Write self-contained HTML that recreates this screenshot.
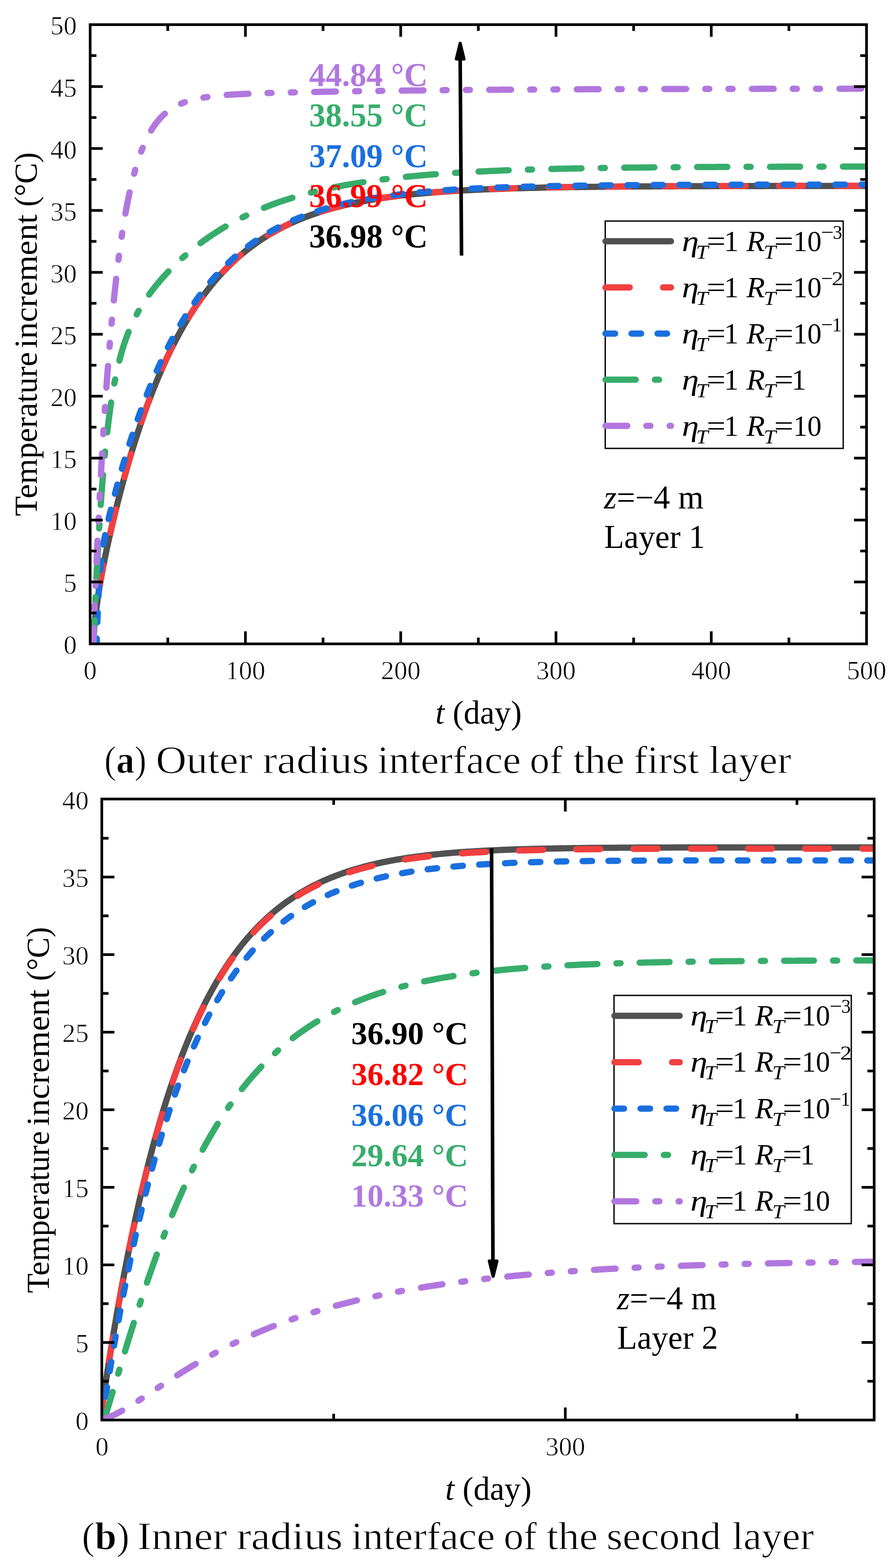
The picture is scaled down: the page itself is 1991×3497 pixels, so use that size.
<!DOCTYPE html><html><head><meta charset="utf-8"><title>Temperature increment</title><style>html,body{margin:0;padding:0;background:#fff}svg{display:block}text{font-family:"Liberation Serif","Times New Roman",serif}.tl{stroke:#fff;stroke-width:0.9px}.cap{stroke:#fff;stroke-width:1.2px}</style></head><body>
<svg xmlns="http://www.w3.org/2000/svg" width="1991" height="3497" viewBox="0 0 1991 3497">
<rect x="0" y="0" width="1991" height="3497" fill="#fff"/>
<defs><clipPath id="clipA"><rect x="204" y="58" width="1725" height="1375"/></clipPath></defs>
<g clip-path="url(#clipA)" fill="none" stroke-width="14" stroke-linecap="round" stroke-linejoin="round">
<path d="M206.86,1436.00 L207.39,1429.48 L207.92,1423.19 L208.46,1417.12 L208.99,1411.26 L209.52,1405.59 L210.05,1400.11 L210.59,1394.80 L211.12,1389.65 L211.65,1384.65 L212.18,1379.80 L212.72,1375.09 L213.25,1370.50 L213.78,1366.04 L214.31,1361.69 L214.85,1357.44 L215.38,1353.30 L215.91,1349.25 L216.44,1345.29 L216.98,1341.42 L217.51,1337.62 L218.04,1333.91 L218.58,1330.26 L219.11,1326.68 L219.64,1323.17 L220.17,1319.71 L220.71,1316.32 L221.24,1312.97 L221.77,1309.68 L222.30,1306.44 L222.84,1303.24 L223.37,1300.09 L223.90,1296.98 L224.43,1293.90 L224.97,1290.87 L225.50,1287.87 L226.03,1284.90 L226.56,1281.97 L227.10,1279.07 L227.63,1276.19 L228.16,1273.35 L228.69,1270.53 L229.23,1267.73 L229.76,1264.96 L230.29,1262.22 L230.83,1259.49 L231.36,1256.79 L231.89,1254.11 L232.42,1251.45 L232.96,1248.80 L233.49,1246.18 L234.02,1243.57 L234.55,1240.98 L235.09,1238.40 L235.62,1235.84 L236.15,1233.30 L236.68,1230.76 L237.22,1228.25 L237.75,1225.75 L238.28,1223.26 L238.81,1220.78 L239.35,1218.32 L239.88,1215.86 L240.41,1213.42 L240.95,1211.00 L241.48,1208.58 L242.01,1206.17 L242.54,1203.78 L243.08,1201.39 L243.61,1199.02 L244.14,1196.65 L244.67,1194.29 L245.21,1191.95 L245.74,1189.61 L246.27,1187.28 L246.80,1184.97 L247.34,1182.66 L247.87,1180.35 L248.40,1178.06 L248.93,1175.78 L249.47,1173.50 L250.00,1171.24 L250.53,1168.98 L251.07,1166.72 L251.60,1164.48 L252.13,1162.25 L252.66,1160.02 L253.20,1157.80 L253.73,1155.58 L254.26,1153.38 L254.79,1151.18 L255.33,1148.99 L255.86,1146.81 L256.39,1144.63 L256.92,1142.46 L257.46,1140.30 L257.99,1138.14 L258.52,1135.99 L259.05,1133.85 L259.59,1131.72 L260.12,1129.59 L260.65,1127.47 L261.19,1125.35 L261.72,1123.25 L262.25,1121.14 L262.78,1119.05 L263.32,1116.96 L263.85,1114.88 L264.38,1112.80 L264.91,1110.73 L265.45,1108.67 L265.98,1106.62 L266.51,1104.57 L267.04,1102.52 L267.58,1100.48 L268.11,1098.45 L268.64,1096.43 L269.17,1094.41 L269.71,1092.40 L270.24,1090.39 L271.98,1083.87 L273.72,1077.41 L275.47,1071.02 L277.21,1064.69 L278.95,1058.42 L280.69,1052.22 L282.43,1046.07 L284.18,1039.98 L285.92,1033.96 L287.66,1027.99 L289.40,1022.07 L291.14,1016.22 L292.88,1010.42 L294.63,1004.68 L296.37,999.00 L298.11,993.37 L299.85,987.79 L301.59,982.27 L303.34,976.80 L305.08,971.38 L306.82,966.02 L308.56,960.71 L310.30,955.45 L312.05,950.24 L313.79,945.08 L315.53,939.97 L317.27,934.91 L319.01,929.90 L320.75,924.94 L322.50,920.03 L324.24,915.16 L325.98,910.34 L327.72,905.57 L329.46,900.84 L331.21,896.16 L332.95,891.52 L334.69,886.93 L336.43,882.39 L338.17,877.88 L339.92,873.42 L341.66,869.01 L343.40,864.63 L345.14,860.30 L346.88,856.01 L348.62,851.76 L350.37,847.56 L352.11,843.39 L353.85,839.27 L355.59,835.18 L357.33,831.13 L359.08,827.13 L360.82,823.16 L362.56,819.23 L364.30,815.33 L366.04,811.48 L367.79,807.66 L369.53,803.88 L371.27,800.13 L373.01,796.43 L374.75,792.75 L376.50,789.12 L378.24,785.52 L379.98,781.95 L381.72,778.42 L383.46,774.92 L385.20,771.45 L386.95,768.02 L388.69,764.62 L390.43,761.26 L392.17,757.92 L393.91,754.62 L395.66,751.36 L397.40,748.12 L399.14,744.91 L400.88,741.74 L402.62,738.59 L404.37,735.48 L406.11,732.39 L407.85,729.34 L409.59,726.31 L411.33,723.32 L413.07,720.35 L414.82,717.41 L416.56,714.50 L418.30,711.62 L420.04,708.77 L421.78,705.94 L423.53,703.14 L425.27,700.37 L427.01,697.63 L428.75,694.91 L430.49,692.21 L432.24,689.55 L433.98,686.91 L435.72,684.29 L437.46,681.70 L439.20,679.14 L440.94,676.60 L442.69,674.08 L444.43,671.59 L446.17,669.12 L447.91,666.68 L449.65,664.26 L451.40,661.86 L453.14,659.48 L454.88,657.13 L456.62,654.80 L458.36,652.50 L460.11,650.21 L461.85,647.95 L463.59,645.71 L465.33,643.49 L467.07,641.30 L468.82,639.12 L470.56,636.97 L472.30,634.83 L474.04,632.72 L475.78,630.63 L477.52,628.55 L479.27,626.50 L481.01,624.47 L482.75,622.45 L484.49,620.46 L486.23,618.48 L487.98,616.53 L489.72,614.59 L491.46,612.67 L493.20,610.77 L494.94,608.89 L496.69,607.03 L498.43,605.18 L500.17,603.35 L501.91,601.54 L503.65,599.75 L505.39,597.98 L507.14,596.22 L508.88,594.48 L510.62,592.75 L512.36,591.04 L514.10,589.35 L515.85,587.68 L517.59,586.02 L519.33,584.37 L521.07,582.75 L522.81,581.13 L524.56,579.54 L526.30,577.96 L528.04,576.39 L529.78,574.84 L531.52,573.30 L533.26,571.78 L535.01,570.28 L536.75,568.78 L538.49,567.31 L540.23,565.84 L541.97,564.39 L543.72,562.96 L545.46,561.54 L547.20,560.13 L554.16,554.64 L561.12,549.36 L568.08,544.28 L575.04,539.39 L581.99,534.68 L588.95,530.16 L595.91,525.80 L602.87,521.61 L609.83,517.58 L616.79,513.70 L623.75,509.97 L630.71,506.37 L637.66,502.92 L644.62,499.59 L651.58,496.40 L658.54,493.32 L665.50,490.35 L672.46,487.50 L679.42,484.76 L686.38,482.12 L693.33,479.58 L700.29,477.14 L707.25,474.79 L714.21,472.53 L721.17,470.35 L728.13,468.26 L735.09,466.24 L742.05,464.30 L749.01,462.43 L755.96,460.64 L762.92,458.91 L769.88,457.25 L776.84,455.65 L783.80,454.11 L790.76,452.62 L797.72,451.20 L804.68,449.83 L811.63,448.51 L818.59,447.23 L825.55,446.01 L832.51,444.83 L839.47,443.70 L846.43,442.61 L853.39,441.56 L860.35,440.55 L867.30,439.58 L874.26,438.64 L881.22,437.74 L888.18,436.88 L895.14,436.05 L902.10,435.24 L909.06,434.47 L916.02,433.73 L922.97,433.01 L929.93,432.32 L936.89,431.66 L943.85,431.02 L950.81,430.41 L957.77,429.82 L964.73,429.25 L971.69,428.70 L978.65,428.18 L985.60,427.67 L992.56,427.18 L999.52,426.71 L1006.48,426.26 L1013.44,425.83 L1020.40,425.41 L1027.36,425.01 L1034.32,424.62 L1041.27,424.24 L1048.23,423.89 L1055.19,423.54 L1062.15,423.21 L1069.11,422.89 L1076.07,422.58 L1083.03,422.28 L1089.99,421.99 L1096.94,421.72 L1103.90,421.45 L1110.86,421.20 L1117.82,420.95 L1124.78,420.72 L1131.74,420.49 L1138.70,420.27 L1145.66,420.06 L1152.62,419.86 L1159.57,419.66 L1166.53,419.48 L1173.49,419.29 L1180.45,419.12 L1187.41,418.95 L1194.37,418.79 L1201.33,418.64 L1208.29,418.49 L1215.24,418.34 L1222.20,418.20 L1229.16,418.07 L1236.12,417.94 L1243.08,417.82 L1250.04,417.70 L1257.00,417.58 L1263.96,417.47 L1270.91,417.37 L1277.87,417.27 L1284.83,417.17 L1291.79,417.07 L1298.75,416.98 L1305.71,416.89 L1312.67,416.81 L1319.63,416.73 L1326.58,416.65 L1333.54,416.57 L1340.50,416.50 L1347.46,416.43 L1354.42,416.36 L1361.38,416.30 L1368.34,416.24 L1375.30,416.18 L1382.26,416.12 L1389.21,416.06 L1396.17,416.01 L1403.13,415.96 L1410.09,415.91 L1417.05,415.86 L1424.01,415.81 L1430.97,415.77 L1437.93,415.73 L1444.88,415.69 L1451.84,415.65 L1458.80,415.61 L1465.76,415.57 L1472.72,415.54 L1479.68,415.50 L1486.64,415.47 L1493.60,415.44 L1500.55,415.41 L1507.51,415.38 L1514.47,415.35 L1521.43,415.32 L1528.39,415.30 L1535.35,415.27 L1542.31,415.25 L1549.27,415.22 L1556.23,415.20 L1563.18,415.18 L1570.14,415.16 L1577.10,415.14 L1584.06,415.12 L1591.02,415.10 L1597.98,415.08 L1604.94,415.06 L1611.90,415.05 L1618.85,415.03 L1625.81,415.02 L1632.77,415.00 L1639.73,414.99 L1646.69,414.97 L1653.65,414.96 L1660.61,414.95 L1667.57,414.93 L1674.52,414.92 L1681.48,414.91 L1688.44,414.90 L1695.40,414.89 L1702.36,414.88 L1709.32,414.87 L1716.28,414.86 L1723.24,414.85 L1730.19,414.84 L1737.15,414.83 L1744.11,414.83 L1751.07,414.82 L1758.03,414.81 L1764.99,414.80 L1771.95,414.80 L1778.91,414.79 L1785.87,414.78 L1792.82,414.78 L1799.78,414.77 L1806.74,414.76 L1813.70,414.76 L1820.66,414.75 L1827.62,414.75 L1834.58,414.74 L1841.54,414.74 L1848.49,414.73 L1855.45,414.73 L1862.41,414.73 L1869.37,414.72 L1876.33,414.72 L1883.29,414.71 L1890.25,414.71 L1897.21,414.71 L1904.16,414.70 L1911.12,414.70 L1918.08,414.70 L1925.04,414.69 L1932.00,414.69" stroke="#515151"/>
<path d="M206.86,1436.00 L207.39,1429.47 L207.92,1423.18 L208.46,1417.11 L208.99,1411.25 L209.52,1405.58 L210.05,1400.10 L210.59,1394.79 L211.12,1389.64 L211.65,1384.64 L212.18,1379.79 L212.72,1375.07 L213.25,1370.49 L213.78,1366.02 L214.31,1361.67 L214.85,1357.42 L215.38,1353.28 L215.91,1349.23 L216.44,1345.27 L216.98,1341.39 L217.51,1337.60 L218.04,1333.88 L218.58,1330.23 L219.11,1326.65 L219.64,1323.14 L220.17,1319.68 L220.71,1316.28 L221.24,1312.94 L221.77,1309.65 L222.30,1306.40 L222.84,1303.20 L223.37,1300.05 L223.90,1296.94 L224.43,1293.86 L224.97,1290.83 L225.50,1287.83 L226.03,1284.86 L226.56,1281.93 L227.10,1279.02 L227.63,1276.15 L228.16,1273.30 L228.69,1270.48 L229.23,1267.69 L229.76,1264.92 L230.29,1262.17 L230.83,1259.45 L231.36,1256.74 L231.89,1254.06 L232.42,1251.40 L232.96,1248.75 L233.49,1246.12 L234.02,1243.51 L234.55,1240.92 L235.09,1238.35 L235.62,1235.79 L236.15,1233.24 L236.68,1230.71 L237.22,1228.19 L237.75,1225.69 L238.28,1223.20 L238.81,1220.72 L239.35,1218.26 L239.88,1215.81 L240.41,1213.36 L240.95,1210.94 L241.48,1208.52 L242.01,1206.11 L242.54,1203.71 L243.08,1201.33 L243.61,1198.95 L244.14,1196.59 L244.67,1194.23 L245.21,1191.88 L245.74,1189.54 L246.27,1187.22 L246.80,1184.90 L247.34,1182.59 L247.87,1180.29 L248.40,1177.99 L248.93,1175.71 L249.47,1173.43 L250.00,1171.16 L250.53,1168.90 L251.07,1166.65 L251.60,1164.41 L252.13,1162.17 L252.66,1159.94 L253.20,1157.72 L253.73,1155.51 L254.26,1153.30 L254.79,1151.10 L255.33,1148.91 L255.86,1146.73 L256.39,1144.55 L256.92,1142.38 L257.46,1140.22 L257.99,1138.06 L258.52,1135.91 L259.05,1133.77 L259.59,1131.63 L260.12,1129.51 L260.65,1127.38 L261.19,1125.27 L261.72,1123.16 L262.25,1121.06 L262.78,1118.96 L263.32,1116.87 L263.85,1114.79 L264.38,1112.72 L264.91,1110.65 L265.45,1108.58 L265.98,1106.53 L266.51,1104.48 L267.04,1102.43 L267.58,1100.39 L268.11,1098.36 L268.64,1096.34 L269.17,1094.32 L269.71,1092.30 L270.24,1090.30 L271.98,1083.78 L273.72,1077.32 L275.47,1070.92 L277.21,1064.59 L278.95,1058.32 L280.69,1052.11 L282.43,1045.96 L284.18,1039.88 L285.92,1033.85 L287.66,1027.88 L289.40,1021.96 L291.14,1016.11 L292.88,1010.31 L294.63,1004.57 L296.37,998.88 L298.11,993.25 L299.85,987.67 L301.59,982.15 L303.34,976.68 L305.08,971.26 L306.82,965.89 L308.56,960.58 L310.30,955.32 L312.05,950.11 L313.79,944.95 L315.53,939.84 L317.27,934.78 L319.01,929.77 L320.75,924.80 L322.50,919.89 L324.24,915.02 L325.98,910.20 L327.72,905.42 L329.46,900.70 L331.21,896.01 L332.95,891.38 L334.69,886.78 L336.43,882.24 L338.17,877.73 L339.92,873.27 L341.66,868.85 L343.40,864.48 L345.14,860.15 L346.88,855.86 L348.62,851.61 L350.37,847.40 L352.11,843.23 L353.85,839.10 L355.59,835.02 L357.33,830.97 L359.08,826.96 L360.82,822.99 L362.56,819.06 L364.30,815.17 L366.04,811.31 L367.79,807.49 L369.53,803.71 L371.27,799.96 L373.01,796.25 L374.75,792.58 L376.50,788.94 L378.24,785.34 L379.98,781.77 L381.72,778.24 L383.46,774.74 L385.20,771.27 L386.95,767.84 L388.69,764.44 L390.43,761.08 L392.17,757.74 L393.91,754.44 L395.66,751.17 L397.40,747.93 L399.14,744.72 L400.88,741.55 L402.62,738.40 L404.37,735.29 L406.11,732.20 L407.85,729.15 L409.59,726.12 L411.33,723.13 L413.07,720.16 L414.82,717.22 L416.56,714.31 L418.30,711.43 L420.04,708.57 L421.78,705.75 L423.53,702.95 L425.27,700.17 L427.01,697.43 L428.75,694.71 L430.49,692.01 L432.24,689.35 L433.98,686.70 L435.72,684.09 L437.46,681.50 L439.20,678.93 L440.94,676.39 L442.69,673.87 L444.43,671.38 L446.17,668.91 L447.91,666.47 L449.65,664.05 L451.40,661.65 L453.14,659.27 L454.88,656.92 L456.62,654.59 L458.36,652.29 L460.11,650.00 L461.85,647.74 L463.59,645.50 L465.33,643.28 L467.07,641.08 L468.82,638.91 L470.56,636.75 L472.30,634.62 L474.04,632.50 L475.78,630.41 L477.52,628.34 L479.27,626.28 L481.01,624.25 L482.75,622.23 L484.49,620.24 L486.23,618.26 L487.98,616.31 L489.72,614.37 L491.46,612.45 L493.20,610.55 L494.94,608.67 L496.69,606.80 L498.43,604.96 L500.17,603.13 L501.91,601.32 L503.65,599.52 L505.39,597.75 L507.14,595.99 L508.88,594.25 L510.62,592.52 L512.36,590.81 L514.10,589.12 L515.85,587.45 L517.59,585.79 L519.33,584.14 L521.07,582.51 L522.81,580.90 L524.56,579.31 L526.30,577.72 L528.04,576.16 L529.78,574.61 L531.52,573.07 L533.26,571.55 L535.01,570.04 L536.75,568.55 L538.49,567.07 L540.23,565.61 L541.97,564.16 L543.72,562.72 L545.46,561.30 L547.20,559.89 L554.16,554.40 L561.12,549.12 L568.08,544.03 L575.04,539.14 L581.99,534.44 L588.95,529.91 L595.91,525.55 L602.87,521.36 L609.83,517.33 L616.79,513.45 L623.75,509.72 L630.71,506.12 L637.66,502.67 L644.62,499.34 L651.58,496.14 L658.54,493.06 L665.50,490.10 L672.46,487.25 L679.42,484.51 L686.38,481.87 L693.33,479.33 L700.29,476.88 L707.25,474.53 L714.21,472.27 L721.17,470.09 L728.13,467.99 L735.09,465.98 L742.05,464.04 L749.01,462.17 L755.96,460.38 L762.92,458.65 L769.88,456.98 L776.84,455.38 L783.80,453.84 L790.76,452.36 L797.72,450.93 L804.68,449.56 L811.63,448.24 L818.59,446.97 L825.55,445.74 L832.51,444.57 L839.47,443.43 L846.43,442.34 L853.39,441.29 L860.35,440.28 L867.30,439.31 L874.26,438.38 L881.22,437.47 L888.18,436.61 L895.14,435.77 L902.10,434.97 L909.06,434.20 L916.02,433.46 L922.97,432.74 L929.93,432.05 L936.89,431.39 L943.85,430.75 L950.81,430.14 L957.77,429.55 L964.73,428.98 L971.69,428.43 L978.65,427.91 L985.60,427.40 L992.56,426.91 L999.52,426.44 L1006.48,425.99 L1013.44,425.55 L1020.40,425.14 L1027.36,424.73 L1034.32,424.34 L1041.27,423.97 L1048.23,423.61 L1055.19,423.27 L1062.15,422.93 L1069.11,422.61 L1076.07,422.30 L1083.03,422.01 L1089.99,421.72 L1096.94,421.45 L1103.90,421.18 L1110.86,420.93 L1117.82,420.68 L1124.78,420.44 L1131.74,420.22 L1138.70,420.00 L1145.66,419.79 L1152.62,419.58 L1159.57,419.39 L1166.53,419.20 L1173.49,419.02 L1180.45,418.85 L1187.41,418.68 L1194.37,418.52 L1201.33,418.36 L1208.29,418.21 L1215.24,418.07 L1222.20,417.93 L1229.16,417.80 L1236.12,417.67 L1243.08,417.54 L1250.04,417.42 L1257.00,417.31 L1263.96,417.20 L1270.91,417.09 L1277.87,416.99 L1284.83,416.89 L1291.79,416.80 L1298.75,416.71 L1305.71,416.62 L1312.67,416.53 L1319.63,416.45 L1326.58,416.37 L1333.54,416.30 L1340.50,416.23 L1347.46,416.16 L1354.42,416.09 L1361.38,416.02 L1368.34,415.96 L1375.30,415.90 L1382.26,415.84 L1389.21,415.79 L1396.17,415.73 L1403.13,415.68 L1410.09,415.63 L1417.05,415.58 L1424.01,415.54 L1430.97,415.49 L1437.93,415.45 L1444.88,415.41 L1451.84,415.37 L1458.80,415.33 L1465.76,415.29 L1472.72,415.26 L1479.68,415.23 L1486.64,415.19 L1493.60,415.16 L1500.55,415.13 L1507.51,415.10 L1514.47,415.07 L1521.43,415.05 L1528.39,415.02 L1535.35,414.99 L1542.31,414.97 L1549.27,414.95 L1556.23,414.92 L1563.18,414.90 L1570.14,414.88 L1577.10,414.86 L1584.06,414.84 L1591.02,414.82 L1597.98,414.81 L1604.94,414.79 L1611.90,414.77 L1618.85,414.76 L1625.81,414.74 L1632.77,414.73 L1639.73,414.71 L1646.69,414.70 L1653.65,414.68 L1660.61,414.67 L1667.57,414.66 L1674.52,414.65 L1681.48,414.64 L1688.44,414.62 L1695.40,414.61 L1702.36,414.60 L1709.32,414.59 L1716.28,414.58 L1723.24,414.58 L1730.19,414.57 L1737.15,414.56 L1744.11,414.55 L1751.07,414.54 L1758.03,414.53 L1764.99,414.53 L1771.95,414.52 L1778.91,414.51 L1785.87,414.51 L1792.82,414.50 L1799.78,414.49 L1806.74,414.49 L1813.70,414.48 L1820.66,414.48 L1827.62,414.47 L1834.58,414.47 L1841.54,414.46 L1848.49,414.46 L1855.45,414.45 L1862.41,414.45 L1869.37,414.45 L1876.33,414.44 L1883.29,414.44 L1890.25,414.43 L1897.21,414.43 L1904.16,414.43 L1911.12,414.42 L1918.08,414.42 L1925.04,414.42 L1932.00,414.41" stroke="#F14040" stroke-dasharray="54 74.4" stroke-dashoffset="6.08"/>
<path d="M215.51,1436.00 L215.97,1420.23 L216.43,1405.61 L216.89,1392.02 L217.35,1379.39 L217.81,1367.63 L218.27,1356.68 L218.73,1346.47 L219.19,1336.93 L219.65,1328.02 L220.11,1319.68 L220.57,1311.86 L221.03,1304.52 L221.49,1297.62 L221.95,1291.13 L222.41,1285.01 L222.87,1279.23 L223.33,1273.76 L223.79,1268.58 L224.25,1263.67 L224.71,1258.99 L225.17,1254.55 L225.63,1250.30 L226.09,1246.25 L226.55,1242.36 L227.01,1238.64 L227.47,1235.06 L227.93,1231.62 L228.39,1228.30 L228.85,1225.09 L229.31,1221.99 L229.77,1218.99 L230.23,1216.08 L230.69,1213.24 L231.15,1210.49 L231.61,1207.80 L232.07,1205.18 L232.53,1202.61 L232.99,1200.10 L233.45,1197.64 L233.91,1195.23 L234.37,1192.87 L234.83,1190.54 L235.29,1188.25 L235.75,1185.99 L236.21,1183.77 L236.67,1181.57 L237.13,1179.41 L237.59,1177.27 L238.05,1175.15 L238.51,1173.05 L238.97,1170.98 L239.43,1168.93 L239.89,1166.89 L240.35,1164.87 L240.81,1162.87 L241.26,1160.88 L241.72,1158.91 L242.18,1156.95 L242.64,1155.01 L243.10,1153.07 L243.56,1151.15 L244.02,1149.24 L244.48,1147.34 L244.94,1145.44 L245.40,1143.56 L245.86,1141.69 L246.32,1139.82 L246.78,1137.97 L247.24,1136.12 L247.70,1134.28 L248.16,1132.44 L248.62,1130.62 L249.08,1128.80 L249.54,1126.98 L250.00,1125.18 L250.46,1123.38 L250.92,1121.58 L251.38,1119.79 L251.84,1118.01 L252.30,1116.23 L252.76,1114.46 L253.22,1112.70 L253.68,1110.94 L254.14,1109.18 L254.60,1107.43 L255.06,1105.69 L255.52,1103.95 L255.98,1102.22 L256.44,1100.49 L256.90,1098.76 L257.36,1097.04 L257.82,1095.33 L258.28,1093.62 L258.74,1091.91 L259.20,1090.21 L259.66,1088.51 L260.12,1086.82 L260.58,1085.13 L261.04,1083.45 L261.50,1081.77 L261.96,1080.10 L262.42,1078.43 L262.88,1076.76 L263.34,1075.10 L263.80,1073.44 L264.26,1071.79 L264.72,1070.14 L265.18,1068.50 L265.64,1066.86 L266.10,1065.22 L266.56,1063.59 L267.02,1061.96 L267.48,1060.34 L267.94,1058.72 L268.40,1057.10 L268.86,1055.49 L269.32,1053.88 L269.78,1052.28 L270.24,1050.68 L271.98,1044.66 L273.72,1038.70 L275.47,1032.79 L277.21,1026.94 L278.95,1021.15 L280.69,1015.41 L282.43,1009.72 L284.18,1004.09 L285.92,998.51 L287.66,992.98 L289.40,987.51 L291.14,982.09 L292.88,976.71 L294.63,971.39 L296.37,966.12 L298.11,960.90 L299.85,955.73 L301.59,950.60 L303.34,945.53 L305.08,940.50 L306.82,935.52 L308.56,930.58 L310.30,925.70 L312.05,920.86 L313.79,916.06 L315.53,911.31 L317.27,906.60 L319.01,901.94 L320.75,897.32 L322.50,892.75 L324.24,888.22 L325.98,883.73 L327.72,879.29 L329.46,874.88 L331.21,870.52 L332.95,866.20 L334.69,861.92 L336.43,857.68 L338.17,853.47 L339.92,849.31 L341.66,845.19 L343.40,841.11 L345.14,837.06 L346.88,833.06 L348.62,829.09 L350.37,825.16 L352.11,821.26 L353.85,817.40 L355.59,813.58 L357.33,809.80 L359.08,806.05 L360.82,802.33 L362.56,798.65 L364.30,795.01 L366.04,791.40 L367.79,787.82 L369.53,784.28 L371.27,780.77 L373.01,777.29 L374.75,773.85 L376.50,770.44 L378.24,767.06 L379.98,763.71 L381.72,760.40 L383.46,757.11 L385.20,753.86 L386.95,750.63 L388.69,747.44 L390.43,744.28 L392.17,741.15 L393.91,738.04 L395.66,734.97 L397.40,731.92 L399.14,728.91 L400.88,725.92 L402.62,722.96 L404.37,720.03 L406.11,717.12 L407.85,714.24 L409.59,711.39 L411.33,708.57 L413.07,705.77 L414.82,703.00 L416.56,700.26 L418.30,697.54 L420.04,694.85 L421.78,692.18 L423.53,689.54 L425.27,686.92 L427.01,684.33 L428.75,681.76 L430.49,679.22 L432.24,676.70 L433.98,674.20 L435.72,671.73 L437.46,669.28 L439.20,666.85 L440.94,664.45 L442.69,662.07 L444.43,659.71 L446.17,657.37 L447.91,655.06 L449.65,652.76 L451.40,650.49 L453.14,648.24 L454.88,646.01 L456.62,643.81 L458.36,641.62 L460.11,639.45 L461.85,637.31 L463.59,635.18 L465.33,633.08 L467.07,630.99 L468.82,628.92 L470.56,626.88 L472.30,624.85 L474.04,622.84 L475.78,620.85 L477.52,618.88 L479.27,616.93 L481.01,615.00 L482.75,613.08 L484.49,611.18 L486.23,609.30 L487.98,607.44 L489.72,605.60 L491.46,603.77 L493.20,601.96 L494.94,600.17 L496.69,598.39 L498.43,596.63 L500.17,594.89 L501.91,593.16 L503.65,591.45 L505.39,589.76 L507.14,588.08 L508.88,586.42 L510.62,584.77 L512.36,583.14 L514.10,581.53 L515.85,579.93 L517.59,578.34 L519.33,576.77 L521.07,575.22 L522.81,573.67 L524.56,572.15 L526.30,570.64 L528.04,569.14 L529.78,567.66 L531.52,566.19 L533.26,564.73 L535.01,563.29 L536.75,561.86 L538.49,560.44 L540.23,559.04 L541.97,557.65 L543.72,556.28 L545.46,554.91 L547.20,553.57 L554.16,548.30 L561.12,543.23 L568.08,538.34 L575.04,533.64 L581.99,529.11 L588.95,524.75 L595.91,520.56 L602.87,516.51 L609.83,512.62 L616.79,508.87 L623.75,505.27 L630.71,501.79 L637.66,498.44 L644.62,495.22 L651.58,492.12 L658.54,489.13 L665.50,486.26 L672.46,483.49 L679.42,480.82 L686.38,478.25 L693.33,475.78 L700.29,473.40 L707.25,471.10 L714.21,468.89 L721.17,466.77 L728.13,464.72 L735.09,462.75 L742.05,460.85 L749.01,459.02 L755.96,457.26 L762.92,455.57 L769.88,453.94 L776.84,452.37 L783.80,450.85 L790.76,449.40 L797.72,447.99 L804.68,446.64 L811.63,445.34 L818.59,444.09 L825.55,442.88 L832.51,441.72 L839.47,440.60 L846.43,439.53 L853.39,438.49 L860.35,437.49 L867.30,436.53 L874.26,435.60 L881.22,434.71 L888.18,433.86 L895.14,433.03 L902.10,432.23 L909.06,431.47 L916.02,430.73 L922.97,430.02 L929.93,429.33 L936.89,428.68 L943.85,428.04 L950.81,427.43 L957.77,426.84 L964.73,426.28 L971.69,425.73 L978.65,425.21 L985.60,424.70 L992.56,424.21 L999.52,423.74 L1006.48,423.29 L1013.44,422.86 L1020.40,422.44 L1027.36,422.04 L1034.32,421.65 L1041.27,421.28 L1048.23,420.92 L1055.19,420.57 L1062.15,420.24 L1069.11,419.91 L1076.07,419.60 L1083.03,419.31 L1089.99,419.02 L1096.94,418.74 L1103.90,418.48 L1110.86,418.22 L1117.82,417.98 L1124.78,417.74 L1131.74,417.51 L1138.70,417.29 L1145.66,417.08 L1152.62,416.87 L1159.57,416.68 L1166.53,416.49 L1173.49,416.30 L1180.45,416.13 L1187.41,415.96 L1194.37,415.80 L1201.33,415.64 L1208.29,415.49 L1215.24,415.35 L1222.20,415.21 L1229.16,415.07 L1236.12,414.94 L1243.08,414.82 L1250.04,414.70 L1257.00,414.58 L1263.96,414.47 L1270.91,414.36 L1277.87,414.26 L1284.83,414.16 L1291.79,414.06 L1298.75,413.97 L1305.71,413.88 L1312.67,413.80 L1319.63,413.71 L1326.58,413.63 L1333.54,413.56 L1340.50,413.48 L1347.46,413.41 L1354.42,413.34 L1361.38,413.28 L1368.34,413.22 L1375.30,413.16 L1382.26,413.10 L1389.21,413.04 L1396.17,412.99 L1403.13,412.93 L1410.09,412.88 L1417.05,412.83 L1424.01,412.79 L1430.97,412.74 L1437.93,412.70 L1444.88,412.66 L1451.84,412.62 L1458.80,412.58 L1465.76,412.54 L1472.72,412.51 L1479.68,412.47 L1486.64,412.44 L1493.60,412.41 L1500.55,412.37 L1507.51,412.35 L1514.47,412.32 L1521.43,412.29 L1528.39,412.26 L1535.35,412.24 L1542.31,412.21 L1549.27,412.19 L1556.23,412.17 L1563.18,412.14 L1570.14,412.12 L1577.10,412.10 L1584.06,412.08 L1591.02,412.06 L1597.98,412.05 L1604.94,412.03 L1611.90,412.01 L1618.85,412.00 L1625.81,411.98 L1632.77,411.96 L1639.73,411.95 L1646.69,411.94 L1653.65,411.92 L1660.61,411.91 L1667.57,411.90 L1674.52,411.89 L1681.48,411.87 L1688.44,411.86 L1695.40,411.85 L1702.36,411.84 L1709.32,411.83 L1716.28,411.82 L1723.24,411.81 L1730.19,411.80 L1737.15,411.80 L1744.11,411.79 L1751.07,411.78 L1758.03,411.77 L1764.99,411.76 L1771.95,411.76 L1778.91,411.75 L1785.87,411.74 L1792.82,411.74 L1799.78,411.73 L1806.74,411.73 L1813.70,411.72 L1820.66,411.71 L1827.62,411.71 L1834.58,411.70 L1841.54,411.70 L1848.49,411.70 L1855.45,411.69 L1862.41,411.69 L1869.37,411.68 L1876.33,411.68 L1883.29,411.67 L1890.25,411.67 L1897.21,411.67 L1904.16,411.66 L1911.12,411.66 L1918.08,411.66 L1925.04,411.65 L1932.00,411.65" stroke="#1A6FDF" stroke-dasharray="21.4 36.6" stroke-dashoffset="9.71"/>
<path d="M208.50,1436.00 L209.02,1422.84 L209.54,1409.94 L210.06,1397.28 L210.58,1384.87 L211.09,1372.70 L211.61,1360.76 L212.13,1349.04 L212.65,1337.55 L213.17,1326.28 L213.69,1315.22 L214.21,1304.38 L214.73,1293.73 L215.24,1283.29 L215.76,1273.05 L216.28,1263.00 L216.80,1253.14 L217.32,1243.47 L217.84,1233.97 L218.36,1224.66 L218.88,1215.51 L219.40,1206.54 L219.91,1197.74 L220.43,1189.10 L220.95,1180.62 L221.47,1172.29 L221.99,1164.12 L222.51,1156.11 L223.03,1148.23 L223.55,1140.51 L224.06,1132.92 L224.58,1125.47 L225.10,1118.16 L225.62,1110.99 L226.14,1103.94 L226.66,1097.02 L227.18,1090.22 L227.70,1083.55 L228.22,1077.00 L228.73,1070.56 L229.25,1064.24 L229.77,1058.04 L230.29,1051.94 L230.81,1045.95 L231.33,1040.07 L231.85,1034.29 L232.37,1028.61 L232.88,1023.03 L233.40,1017.56 L233.92,1012.17 L234.44,1006.88 L234.96,1001.68 L235.48,996.57 L236.00,991.55 L236.52,986.62 L237.04,981.77 L237.55,977.00 L238.07,972.32 L238.59,967.71 L239.11,963.18 L239.63,958.73 L240.15,954.35 L240.67,950.05 L241.19,945.82 L241.70,941.65 L242.22,937.56 L242.74,933.53 L243.26,929.57 L243.78,925.68 L244.30,921.85 L244.82,918.08 L245.34,914.37 L245.86,910.72 L246.37,907.13 L246.89,903.60 L247.41,900.13 L247.93,896.70 L248.45,893.34 L248.97,890.02 L249.49,886.76 L250.01,883.55 L250.52,880.39 L251.04,877.27 L251.56,874.21 L252.08,871.19 L252.60,868.22 L253.12,865.29 L253.64,862.41 L254.16,859.57 L254.68,856.77 L255.19,854.01 L255.71,851.30 L256.23,848.62 L256.75,845.98 L257.27,843.38 L257.79,840.82 L258.31,838.30 L258.83,835.81 L259.34,833.36 L259.86,830.94 L260.38,828.56 L260.90,826.21 L261.42,823.89 L261.94,821.60 L262.46,819.35 L262.98,817.12 L263.50,814.93 L264.01,812.77 L264.53,810.63 L265.05,808.52 L265.57,806.45 L266.09,804.39 L266.61,802.37 L267.13,800.37 L267.65,798.40 L268.16,796.45 L268.68,794.53 L269.20,792.63 L269.72,790.76 L270.24,788.91 L271.98,782.86 L273.72,777.05 L275.47,771.47 L277.21,766.10 L278.95,760.93 L280.69,755.95 L282.43,751.15 L284.18,746.51 L285.92,742.02 L287.66,737.68 L289.40,733.48 L291.14,729.41 L292.88,725.46 L294.63,721.62 L296.37,717.89 L298.11,714.26 L299.85,710.73 L301.59,707.28 L303.34,703.92 L305.08,700.65 L306.82,697.45 L308.56,694.32 L310.30,691.26 L312.05,688.26 L313.79,685.33 L315.53,682.45 L317.27,679.63 L319.01,676.87 L320.75,674.15 L322.50,671.48 L324.24,668.86 L325.98,666.28 L327.72,663.74 L329.46,661.24 L331.21,658.78 L332.95,656.35 L334.69,653.96 L336.43,651.61 L338.17,649.29 L339.92,646.99 L341.66,644.73 L343.40,642.50 L345.14,640.29 L346.88,638.11 L348.62,635.96 L350.37,633.83 L352.11,631.73 L353.85,629.65 L355.59,627.59 L357.33,625.56 L359.08,623.55 L360.82,621.56 L362.56,619.58 L364.30,617.63 L366.04,615.70 L367.79,613.79 L369.53,611.89 L371.27,610.02 L373.01,608.16 L374.75,606.32 L376.50,604.49 L378.24,602.69 L379.98,600.90 L381.72,599.12 L383.46,597.36 L385.20,595.62 L386.95,593.89 L388.69,592.18 L390.43,590.48 L392.17,588.79 L393.91,587.12 L395.66,585.47 L397.40,583.83 L399.14,582.20 L400.88,580.58 L402.62,578.98 L404.37,577.39 L406.11,575.82 L407.85,574.25 L409.59,572.70 L411.33,571.17 L413.07,569.64 L414.82,568.13 L416.56,566.63 L418.30,565.14 L420.04,563.66 L421.78,562.20 L423.53,560.74 L425.27,559.30 L427.01,557.87 L428.75,556.45 L430.49,555.04 L432.24,553.64 L433.98,552.26 L435.72,550.88 L437.46,549.52 L439.20,548.16 L440.94,546.82 L442.69,545.48 L444.43,544.16 L446.17,542.85 L447.91,541.54 L449.65,540.25 L451.40,538.97 L453.14,537.69 L454.88,536.43 L456.62,535.17 L458.36,533.93 L460.11,532.70 L461.85,531.47 L463.59,530.25 L465.33,529.05 L467.07,527.85 L468.82,526.66 L470.56,525.48 L472.30,524.31 L474.04,523.15 L475.78,522.00 L477.52,520.86 L479.27,519.72 L481.01,518.60 L482.75,517.48 L484.49,516.37 L486.23,515.27 L487.98,514.18 L489.72,513.09 L491.46,512.02 L493.20,510.95 L494.94,509.89 L496.69,508.84 L498.43,507.79 L500.17,506.76 L501.91,505.73 L503.65,504.71 L505.39,503.70 L507.14,502.70 L508.88,501.70 L510.62,500.71 L512.36,499.73 L514.10,498.75 L515.85,497.79 L517.59,496.83 L519.33,495.88 L521.07,494.93 L522.81,493.99 L524.56,493.06 L526.30,492.14 L528.04,491.22 L529.78,490.31 L531.52,489.41 L533.26,488.51 L535.01,487.62 L536.75,486.74 L538.49,485.87 L540.23,485.00 L541.97,484.14 L543.72,483.28 L545.46,482.43 L547.20,481.59 L554.16,478.28 L561.12,475.08 L568.08,471.97 L575.04,468.95 L581.99,466.03 L588.95,463.19 L595.91,460.44 L602.87,457.77 L609.83,455.17 L616.79,452.66 L623.75,450.22 L630.71,447.86 L637.66,445.56 L644.62,443.34 L651.58,441.18 L658.54,439.09 L665.50,437.06 L672.46,435.08 L679.42,433.17 L686.38,431.32 L693.33,429.52 L700.29,427.78 L707.25,426.08 L714.21,424.44 L721.17,422.85 L728.13,421.30 L735.09,419.80 L742.05,418.35 L749.01,416.94 L755.96,415.57 L762.92,414.24 L769.88,412.96 L776.84,411.71 L783.80,410.50 L790.76,409.32 L797.72,408.18 L804.68,407.08 L811.63,406.00 L818.59,404.96 L825.55,403.95 L832.51,402.97 L839.47,402.02 L846.43,401.10 L853.39,400.21 L860.35,399.34 L867.30,398.50 L874.26,397.68 L881.22,396.89 L888.18,396.12 L895.14,395.38 L902.10,394.66 L909.06,393.96 L916.02,393.28 L922.97,392.62 L929.93,391.98 L936.89,391.36 L943.85,390.75 L950.81,390.17 L957.77,389.60 L964.73,389.05 L971.69,388.52 L978.65,388.00 L985.60,387.50 L992.56,387.01 L999.52,386.54 L1006.48,386.08 L1013.44,385.64 L1020.40,385.21 L1027.36,384.79 L1034.32,384.39 L1041.27,383.99 L1048.23,383.61 L1055.19,383.24 L1062.15,382.88 L1069.11,382.53 L1076.07,382.20 L1083.03,381.87 L1089.99,381.55 L1096.94,381.24 L1103.90,380.94 L1110.86,380.65 L1117.82,380.37 L1124.78,380.10 L1131.74,379.83 L1138.70,379.58 L1145.66,379.33 L1152.62,379.08 L1159.57,378.85 L1166.53,378.62 L1173.49,378.40 L1180.45,378.19 L1187.41,377.98 L1194.37,377.78 L1201.33,377.58 L1208.29,377.39 L1215.24,377.21 L1222.20,377.03 L1229.16,376.86 L1236.12,376.69 L1243.08,376.53 L1250.04,376.37 L1257.00,376.21 L1263.96,376.07 L1270.91,375.92 L1277.87,375.78 L1284.83,375.65 L1291.79,375.51 L1298.75,375.39 L1305.71,375.26 L1312.67,375.14 L1319.63,375.03 L1326.58,374.91 L1333.54,374.80 L1340.50,374.70 L1347.46,374.59 L1354.42,374.49 L1361.38,374.40 L1368.34,374.30 L1375.30,374.21 L1382.26,374.12 L1389.21,374.04 L1396.17,373.95 L1403.13,373.87 L1410.09,373.79 L1417.05,373.72 L1424.01,373.64 L1430.97,373.57 L1437.93,373.50 L1444.88,373.43 L1451.84,373.37 L1458.80,373.31 L1465.76,373.24 L1472.72,373.18 L1479.68,373.13 L1486.64,373.07 L1493.60,373.02 L1500.55,372.96 L1507.51,372.91 L1514.47,372.86 L1521.43,372.81 L1528.39,372.77 L1535.35,372.72 L1542.31,372.68 L1549.27,372.63 L1556.23,372.59 L1563.18,372.55 L1570.14,372.51 L1577.10,372.48 L1584.06,372.44 L1591.02,372.40 L1597.98,372.37 L1604.94,372.33 L1611.90,372.30 L1618.85,372.27 L1625.81,372.24 L1632.77,372.21 L1639.73,372.18 L1646.69,372.15 L1653.65,372.13 L1660.61,372.10 L1667.57,372.08 L1674.52,372.05 L1681.48,372.03 L1688.44,372.00 L1695.40,371.98 L1702.36,371.96 L1709.32,371.94 L1716.28,371.92 L1723.24,371.90 L1730.19,371.88 L1737.15,371.86 L1744.11,371.84 L1751.07,371.82 L1758.03,371.81 L1764.99,371.79 L1771.95,371.77 L1778.91,371.76 L1785.87,371.74 L1792.82,371.73 L1799.78,371.71 L1806.74,371.70 L1813.70,371.69 L1820.66,371.67 L1827.62,371.66 L1834.58,371.65 L1841.54,371.64 L1848.49,371.62 L1855.45,371.61 L1862.41,371.60 L1869.37,371.59 L1876.33,371.58 L1883.29,371.57 L1890.25,371.56 L1897.21,371.55 L1904.16,371.54 L1911.12,371.53 L1918.08,371.53 L1925.04,371.52 L1932.00,371.51" stroke="#37AD6B" stroke-dasharray="67.3 42.8 9.3 43.1" stroke-dashoffset="14.68"/>
<path d="M207.75,1436.00 L208.28,1422.31 L208.80,1408.77 L209.33,1395.38 L209.85,1382.15 L210.38,1369.06 L210.90,1356.12 L211.43,1343.32 L211.95,1330.67 L212.48,1318.16 L213.00,1305.80 L213.53,1293.57 L214.05,1281.48 L214.58,1269.52 L215.10,1257.70 L215.63,1246.01 L216.15,1234.45 L216.68,1223.03 L217.20,1211.73 L217.73,1200.55 L218.25,1189.51 L218.78,1178.59 L219.30,1167.79 L219.83,1157.11 L220.35,1146.55 L220.88,1136.11 L221.40,1125.79 L221.93,1115.58 L222.45,1105.49 L222.98,1095.51 L223.50,1085.65 L224.03,1075.89 L224.55,1066.24 L225.08,1056.71 L225.60,1047.28 L226.13,1037.95 L226.65,1028.73 L227.18,1019.62 L227.71,1010.60 L228.23,1001.69 L228.76,992.88 L229.28,984.16 L229.81,975.55 L230.33,967.03 L230.86,958.60 L231.38,950.28 L231.91,942.04 L232.43,933.90 L232.96,925.85 L233.48,917.89 L234.01,910.01 L234.53,902.23 L235.06,894.53 L235.58,886.92 L236.11,879.40 L236.63,871.96 L237.16,864.60 L237.68,857.33 L238.21,850.14 L238.73,843.03 L239.26,836.00 L239.78,829.04 L240.31,822.17 L240.83,815.37 L241.36,808.65 L241.88,802.01 L242.41,795.43 L242.93,788.94 L243.46,782.51 L243.98,776.16 L244.51,769.88 L245.03,763.67 L245.56,757.53 L246.08,751.45 L246.61,745.45 L247.13,739.51 L247.66,733.64 L248.18,727.84 L248.71,722.10 L249.24,716.42 L249.76,710.81 L250.29,705.26 L250.81,699.78 L251.34,694.35 L251.86,688.99 L252.39,683.68 L252.91,678.44 L253.44,673.25 L253.96,668.13 L254.49,663.06 L255.01,658.04 L255.54,653.09 L256.06,648.18 L256.59,643.34 L257.11,638.55 L257.64,633.81 L258.16,629.12 L258.69,624.49 L259.21,619.91 L259.74,615.38 L260.26,610.90 L260.79,606.47 L261.31,602.09 L261.84,597.76 L262.36,593.48 L262.89,589.24 L263.41,585.06 L263.94,580.92 L264.46,576.82 L264.99,572.78 L265.51,568.77 L266.04,564.82 L266.56,560.90 L267.09,557.03 L267.61,553.21 L268.14,549.43 L268.66,545.68 L269.19,541.99 L269.71,538.33 L270.24,534.71 L271.98,523.00 L273.72,511.72 L275.47,500.85 L277.21,490.38 L278.95,480.29 L280.69,470.57 L282.43,461.21 L284.18,452.19 L285.92,443.50 L287.66,435.12 L289.40,427.06 L291.14,419.28 L292.88,411.79 L294.63,404.58 L296.37,397.62 L298.11,390.92 L299.85,384.47 L301.59,378.25 L303.34,372.25 L305.08,366.47 L306.82,360.91 L308.56,355.54 L310.30,350.38 L312.05,345.40 L313.79,340.59 L315.53,335.97 L317.27,331.51 L319.01,327.21 L320.75,323.07 L322.50,319.08 L324.24,315.23 L325.98,311.53 L327.72,307.95 L329.46,304.51 L331.21,301.19 L332.95,297.99 L334.69,294.90 L336.43,291.93 L338.17,289.06 L339.92,286.30 L341.66,283.63 L343.40,281.06 L345.14,278.58 L346.88,276.20 L348.62,273.89 L350.37,271.67 L352.11,269.53 L353.85,267.47 L355.59,265.47 L357.33,263.55 L359.08,261.70 L360.82,259.91 L362.56,258.19 L364.30,256.53 L366.04,254.92 L367.79,253.38 L369.53,251.88 L371.27,250.44 L373.01,249.06 L374.75,247.71 L376.50,246.42 L378.24,245.17 L379.98,243.97 L381.72,242.81 L383.46,241.68 L385.20,240.60 L386.95,239.55 L388.69,238.54 L390.43,237.57 L392.17,236.63 L393.91,235.72 L395.66,234.84 L397.40,233.99 L399.14,233.17 L400.88,232.38 L402.62,231.62 L404.37,230.88 L406.11,230.17 L407.85,229.48 L409.59,228.81 L411.33,228.17 L413.07,227.55 L414.82,226.95 L416.56,226.36 L418.30,225.80 L420.04,225.26 L421.78,224.73 L423.53,224.22 L425.27,223.73 L427.01,223.25 L428.75,222.79 L430.49,222.35 L432.24,221.92 L433.98,221.50 L435.72,221.09 L437.46,220.70 L439.20,220.32 L440.94,219.95 L442.69,219.60 L444.43,219.25 L446.17,218.92 L447.91,218.59 L449.65,218.28 L451.40,217.98 L453.14,217.68 L454.88,217.39 L456.62,217.11 L458.36,216.85 L460.11,216.58 L461.85,216.33 L463.59,216.08 L465.33,215.84 L467.07,215.61 L468.82,215.38 L470.56,215.16 L472.30,214.95 L474.04,214.74 L475.78,214.54 L477.52,214.34 L479.27,214.15 L481.01,213.97 L482.75,213.79 L484.49,213.61 L486.23,213.44 L487.98,213.27 L489.72,213.11 L491.46,212.95 L493.20,212.79 L494.94,212.64 L496.69,212.50 L498.43,212.35 L500.17,212.21 L501.91,212.08 L503.65,211.94 L505.39,211.81 L507.14,211.69 L508.88,211.56 L510.62,211.44 L512.36,211.32 L514.10,211.20 L515.85,211.09 L517.59,210.98 L519.33,210.87 L521.07,210.76 L522.81,210.66 L524.56,210.56 L526.30,210.46 L528.04,210.36 L529.78,210.26 L531.52,210.17 L533.26,210.08 L535.01,209.99 L536.75,209.90 L538.49,209.81 L540.23,209.73 L541.97,209.64 L543.72,209.56 L545.46,209.48 L547.20,209.40 L554.16,209.09 L561.12,208.80 L568.08,208.53 L575.04,208.28 L581.99,208.04 L588.95,207.80 L595.91,207.58 L602.87,207.37 L609.83,207.17 L616.79,206.98 L623.75,206.79 L630.71,206.61 L637.66,206.43 L644.62,206.26 L651.58,206.10 L658.54,205.93 L665.50,205.78 L672.46,205.63 L679.42,205.48 L686.38,205.33 L693.33,205.19 L700.29,205.05 L707.25,204.91 L714.21,204.78 L721.17,204.65 L728.13,204.52 L735.09,204.40 L742.05,204.28 L749.01,204.16 L755.96,204.04 L762.92,203.92 L769.88,203.81 L776.84,203.70 L783.80,203.59 L790.76,203.48 L797.72,203.38 L804.68,203.27 L811.63,203.17 L818.59,203.07 L825.55,202.97 L832.51,202.88 L839.47,202.78 L846.43,202.69 L853.39,202.60 L860.35,202.51 L867.30,202.42 L874.26,202.34 L881.22,202.25 L888.18,202.17 L895.14,202.09 L902.10,202.01 L909.06,201.93 L916.02,201.85 L922.97,201.77 L929.93,201.70 L936.89,201.63 L943.85,201.55 L950.81,201.48 L957.77,201.41 L964.73,201.34 L971.69,201.28 L978.65,201.21 L985.60,201.15 L992.56,201.08 L999.52,201.02 L1006.48,200.96 L1013.44,200.90 L1020.40,200.84 L1027.36,200.78 L1034.32,200.72 L1041.27,200.67 L1048.23,200.61 L1055.19,200.56 L1062.15,200.50 L1069.11,200.45 L1076.07,200.40 L1083.03,200.35 L1089.99,200.30 L1096.94,200.25 L1103.90,200.20 L1110.86,200.16 L1117.82,200.11 L1124.78,200.06 L1131.74,200.02 L1138.70,199.97 L1145.66,199.93 L1152.62,199.89 L1159.57,199.85 L1166.53,199.81 L1173.49,199.77 L1180.45,199.73 L1187.41,199.69 L1194.37,199.65 L1201.33,199.61 L1208.29,199.58 L1215.24,199.54 L1222.20,199.50 L1229.16,199.47 L1236.12,199.44 L1243.08,199.40 L1250.04,199.37 L1257.00,199.34 L1263.96,199.30 L1270.91,199.27 L1277.87,199.24 L1284.83,199.21 L1291.79,199.18 L1298.75,199.15 L1305.71,199.12 L1312.67,199.10 L1319.63,199.07 L1326.58,199.04 L1333.54,199.01 L1340.50,198.99 L1347.46,198.96 L1354.42,198.94 L1361.38,198.91 L1368.34,198.89 L1375.30,198.86 L1382.26,198.84 L1389.21,198.82 L1396.17,198.79 L1403.13,198.77 L1410.09,198.75 L1417.05,198.73 L1424.01,198.71 L1430.97,198.69 L1437.93,198.66 L1444.88,198.64 L1451.84,198.63 L1458.80,198.61 L1465.76,198.59 L1472.72,198.57 L1479.68,198.55 L1486.64,198.53 L1493.60,198.51 L1500.55,198.50 L1507.51,198.48 L1514.47,198.46 L1521.43,198.45 L1528.39,198.43 L1535.35,198.41 L1542.31,198.40 L1549.27,198.38 L1556.23,198.37 L1563.18,198.35 L1570.14,198.34 L1577.10,198.32 L1584.06,198.31 L1591.02,198.29 L1597.98,198.28 L1604.94,198.27 L1611.90,198.25 L1618.85,198.24 L1625.81,198.23 L1632.77,198.22 L1639.73,198.20 L1646.69,198.19 L1653.65,198.18 L1660.61,198.17 L1667.57,198.16 L1674.52,198.15 L1681.48,198.14 L1688.44,198.12 L1695.40,198.11 L1702.36,198.10 L1709.32,198.09 L1716.28,198.08 L1723.24,198.07 L1730.19,198.06 L1737.15,198.05 L1744.11,198.04 L1751.07,198.04 L1758.03,198.03 L1764.99,198.02 L1771.95,198.01 L1778.91,198.00 L1785.87,197.99 L1792.82,197.98 L1799.78,197.98 L1806.74,197.97 L1813.70,197.96 L1820.66,197.95 L1827.62,197.94 L1834.58,197.94 L1841.54,197.93 L1848.49,197.92 L1855.45,197.91 L1862.41,197.91 L1869.37,197.90 L1876.33,197.89 L1883.29,197.89 L1890.25,197.88 L1897.21,197.87 L1904.16,197.87 L1911.12,197.86 L1918.08,197.86 L1925.04,197.85 L1932.00,197.84" stroke="#B177DE" stroke-dasharray="48.6 42.6 9 42.8 9 43.2" stroke-dashoffset="13.33"/>
</g>
<text x="689.2" y="192" font-size="73" font-weight="bold" fill="#B177DE">44.84 °C</text>
<text x="689.2" y="282" font-size="73" font-weight="bold" fill="#37AD6B">38.55 °C</text>
<text x="689.2" y="372.5" font-size="73" font-weight="bold" fill="#1A6FDF">37.09 °C</text>
<text x="689.2" y="462" font-size="73" font-weight="bold" fill="#FF0000">36.99 °C</text>
<text x="689.2" y="552" font-size="73" font-weight="bold" fill="#000000">36.98 °C</text>
<line x1="1026" y1="135" x2="1029" y2="570" stroke="#000" stroke-width="8"/>
<path d="M1026,96.5 L1017.5,131.5 L1034.5,131.5 Z" fill="#000" stroke="#000" stroke-width="7" stroke-linejoin="round"/>
<g stroke="#000" stroke-width="6" fill="none">
<rect x="201" y="55" width="1731" height="1381" stroke-linejoin="miter"/>
<line x1="201" y1="1366.95" x2="215" y2="1366.95"/>
<line x1="1932" y1="1366.95" x2="1918" y2="1366.95"/>
<line x1="201" y1="1297.90" x2="229" y2="1297.90"/>
<line x1="1932" y1="1297.90" x2="1904" y2="1297.90"/>
<line x1="201" y1="1228.85" x2="215" y2="1228.85"/>
<line x1="1932" y1="1228.85" x2="1918" y2="1228.85"/>
<line x1="201" y1="1159.80" x2="229" y2="1159.80"/>
<line x1="1932" y1="1159.80" x2="1904" y2="1159.80"/>
<line x1="201" y1="1090.75" x2="215" y2="1090.75"/>
<line x1="1932" y1="1090.75" x2="1918" y2="1090.75"/>
<line x1="201" y1="1021.70" x2="229" y2="1021.70"/>
<line x1="1932" y1="1021.70" x2="1904" y2="1021.70"/>
<line x1="201" y1="952.65" x2="215" y2="952.65"/>
<line x1="1932" y1="952.65" x2="1918" y2="952.65"/>
<line x1="201" y1="883.60" x2="229" y2="883.60"/>
<line x1="1932" y1="883.60" x2="1904" y2="883.60"/>
<line x1="201" y1="814.55" x2="215" y2="814.55"/>
<line x1="1932" y1="814.55" x2="1918" y2="814.55"/>
<line x1="201" y1="745.50" x2="229" y2="745.50"/>
<line x1="1932" y1="745.50" x2="1904" y2="745.50"/>
<line x1="201" y1="676.45" x2="215" y2="676.45"/>
<line x1="1932" y1="676.45" x2="1918" y2="676.45"/>
<line x1="201" y1="607.40" x2="229" y2="607.40"/>
<line x1="1932" y1="607.40" x2="1904" y2="607.40"/>
<line x1="201" y1="538.35" x2="215" y2="538.35"/>
<line x1="1932" y1="538.35" x2="1918" y2="538.35"/>
<line x1="201" y1="469.30" x2="229" y2="469.30"/>
<line x1="1932" y1="469.30" x2="1904" y2="469.30"/>
<line x1="201" y1="400.25" x2="215" y2="400.25"/>
<line x1="1932" y1="400.25" x2="1918" y2="400.25"/>
<line x1="201" y1="331.20" x2="229" y2="331.20"/>
<line x1="1932" y1="331.20" x2="1904" y2="331.20"/>
<line x1="201" y1="262.15" x2="215" y2="262.15"/>
<line x1="1932" y1="262.15" x2="1918" y2="262.15"/>
<line x1="201" y1="193.10" x2="229" y2="193.10"/>
<line x1="1932" y1="193.10" x2="1904" y2="193.10"/>
<line x1="201" y1="124.05" x2="215" y2="124.05"/>
<line x1="1932" y1="124.05" x2="1918" y2="124.05"/>
<line x1="374.10" y1="1436" x2="374.10" y2="1422"/>
<line x1="374.10" y1="55" x2="374.10" y2="69"/>
<line x1="547.20" y1="1436" x2="547.20" y2="1408"/>
<line x1="547.20" y1="55" x2="547.20" y2="82"/>
<line x1="720.30" y1="1436" x2="720.30" y2="1422"/>
<line x1="720.30" y1="55" x2="720.30" y2="69"/>
<line x1="893.40" y1="1436" x2="893.40" y2="1408"/>
<line x1="893.40" y1="55" x2="893.40" y2="82"/>
<line x1="1066.50" y1="1436" x2="1066.50" y2="1422"/>
<line x1="1066.50" y1="55" x2="1066.50" y2="69"/>
<line x1="1239.60" y1="1436" x2="1239.60" y2="1408"/>
<line x1="1239.60" y1="55" x2="1239.60" y2="82"/>
<line x1="1412.70" y1="1436" x2="1412.70" y2="1422"/>
<line x1="1412.70" y1="55" x2="1412.70" y2="69"/>
<line x1="1585.80" y1="1436" x2="1585.80" y2="1408"/>
<line x1="1585.80" y1="55" x2="1585.80" y2="82"/>
<line x1="1758.90" y1="1436" x2="1758.90" y2="1422"/>
<line x1="1758.90" y1="55" x2="1758.90" y2="69"/>
</g>
<text x="171.2" y="1458.40" font-size="59" text-anchor="end" class="tl">0</text>
<text x="171.2" y="1320.30" font-size="59" text-anchor="end" class="tl">5</text>
<text x="171.2" y="1182.20" font-size="59" text-anchor="end" class="tl">10</text>
<text x="171.2" y="1044.10" font-size="59" text-anchor="end" class="tl">15</text>
<text x="171.2" y="906.00" font-size="59" text-anchor="end" class="tl">20</text>
<text x="171.2" y="767.90" font-size="59" text-anchor="end" class="tl">25</text>
<text x="171.2" y="629.80" font-size="59" text-anchor="end" class="tl">30</text>
<text x="171.2" y="491.70" font-size="59" text-anchor="end" class="tl">35</text>
<text x="171.2" y="353.60" font-size="59" text-anchor="end" class="tl">40</text>
<text x="171.2" y="215.50" font-size="59" text-anchor="end" class="tl">45</text>
<text x="171.2" y="77.40" font-size="59" text-anchor="end" class="tl">50</text>
<text x="201.00" y="1515" font-size="59" text-anchor="middle" class="tl">0</text>
<text x="547.20" y="1515" font-size="59" text-anchor="middle" class="tl">100</text>
<text x="893.40" y="1515" font-size="59" text-anchor="middle" class="tl">200</text>
<text x="1239.60" y="1515" font-size="59" text-anchor="middle" class="tl">300</text>
<text x="1585.80" y="1515" font-size="59" text-anchor="middle" class="tl">400</text>
<text x="1932.00" y="1515" font-size="59" text-anchor="middle" class="tl">500</text>
<text transform="translate(82,1151.01) rotate(-90)" font-size="72" textLength="365.96" lengthAdjust="spacingAndGlyphs">Temperature</text>
<text transform="translate(82,776.57) rotate(-90)" font-size="72" textLength="298.32" lengthAdjust="spacingAndGlyphs">increment</text>
<text transform="translate(82,460.98) rotate(-90)" font-size="72" textLength="121.36" lengthAdjust="spacingAndGlyphs">(°C)</text>
<text x="970.8" y="1614" font-size="73"><tspan font-style="italic">t</tspan> (day)</text>
<rect x="1349.4" y="493" width="530.5999999999999" height="507" fill="none" stroke="#000" stroke-width="3"/>
<path d="M1350,538.00 L1496,538.00" stroke="#515151" stroke-width="14" stroke-linecap="round" fill="none"/>
<text x="1520.25" y="560.10" font-size="65" font-style="italic" textLength="37.89" lengthAdjust="spacingAndGlyphs">η</text>
<text x="1551.78" y="577.10" font-size="45" font-style="italic" textLength="27.15" lengthAdjust="spacingAndGlyphs">T</text>
<text x="1575.46" y="560.10" font-size="65" textLength="42.21" lengthAdjust="spacingAndGlyphs">=</text>
<text x="1614.19" y="560.10" font-size="65" textLength="32.5" lengthAdjust="spacingAndGlyphs">1</text>
<text x="1664.34" y="560.10" font-size="65" font-style="italic" textLength="41.2" lengthAdjust="spacingAndGlyphs">R</text>
<text x="1702.67" y="577.10" font-size="45" font-style="italic" textLength="27.25" lengthAdjust="spacingAndGlyphs">T</text>
<text x="1725.98" y="560.10" font-size="65" textLength="43.06" lengthAdjust="spacingAndGlyphs">=</text>
<text x="1768.42" y="560.10" font-size="65" textLength="63.39" lengthAdjust="spacingAndGlyphs">10</text>
<text x="1830.36" y="532.60" font-size="45" textLength="28.62" lengthAdjust="spacingAndGlyphs">−</text>
<text x="1856.68" y="532.60" font-size="45" textLength="21.07" lengthAdjust="spacingAndGlyphs">3</text>
<path d="M1350,640.95 L1496,640.95" stroke="#F14040" stroke-width="14" stroke-linecap="round" fill="none" stroke-dasharray="54 74.4"/>
<text x="1520.25" y="663.05" font-size="65" font-style="italic" textLength="37.89" lengthAdjust="spacingAndGlyphs">η</text>
<text x="1551.78" y="680.05" font-size="45" font-style="italic" textLength="27.15" lengthAdjust="spacingAndGlyphs">T</text>
<text x="1575.46" y="663.05" font-size="65" textLength="42.21" lengthAdjust="spacingAndGlyphs">=</text>
<text x="1614.19" y="663.05" font-size="65" textLength="32.5" lengthAdjust="spacingAndGlyphs">1</text>
<text x="1664.34" y="663.05" font-size="65" font-style="italic" textLength="41.2" lengthAdjust="spacingAndGlyphs">R</text>
<text x="1702.67" y="680.05" font-size="45" font-style="italic" textLength="27.25" lengthAdjust="spacingAndGlyphs">T</text>
<text x="1725.98" y="663.05" font-size="65" textLength="43.06" lengthAdjust="spacingAndGlyphs">=</text>
<text x="1768.42" y="663.05" font-size="65" textLength="63.39" lengthAdjust="spacingAndGlyphs">10</text>
<text x="1830.68" y="635.55" font-size="45" textLength="26.2" lengthAdjust="spacingAndGlyphs">−</text>
<text x="1854.22" y="635.55" font-size="45" textLength="25.94" lengthAdjust="spacingAndGlyphs">2</text>
<path d="M1350,743.90 L1496,743.90" stroke="#1A6FDF" stroke-width="14" stroke-linecap="round" fill="none" stroke-dasharray="21.4 36.6"/>
<text x="1520.25" y="766.00" font-size="65" font-style="italic" textLength="37.89" lengthAdjust="spacingAndGlyphs">η</text>
<text x="1551.78" y="783.00" font-size="45" font-style="italic" textLength="27.15" lengthAdjust="spacingAndGlyphs">T</text>
<text x="1575.46" y="766.00" font-size="65" textLength="42.21" lengthAdjust="spacingAndGlyphs">=</text>
<text x="1614.19" y="766.00" font-size="65" textLength="32.5" lengthAdjust="spacingAndGlyphs">1</text>
<text x="1664.34" y="766.00" font-size="65" font-style="italic" textLength="41.2" lengthAdjust="spacingAndGlyphs">R</text>
<text x="1702.67" y="783.00" font-size="45" font-style="italic" textLength="27.25" lengthAdjust="spacingAndGlyphs">T</text>
<text x="1725.98" y="766.00" font-size="65" textLength="43.06" lengthAdjust="spacingAndGlyphs">=</text>
<text x="1768.42" y="766.00" font-size="65" textLength="63.39" lengthAdjust="spacingAndGlyphs">10</text>
<text x="1830.68" y="738.50" font-size="45" textLength="26.2" lengthAdjust="spacingAndGlyphs">−</text>
<text x="1855.57" y="738.50" font-size="45" textLength="21.16" lengthAdjust="spacingAndGlyphs">1</text>
<path d="M1350,846.85 L1496,846.85" stroke="#37AD6B" stroke-width="14" stroke-linecap="round" fill="none" stroke-dasharray="67.3 42.8 9.3 43.1"/>
<text x="1520.25" y="868.95" font-size="65" font-style="italic" textLength="37.89" lengthAdjust="spacingAndGlyphs">η</text>
<text x="1551.78" y="885.95" font-size="45" font-style="italic" textLength="27.15" lengthAdjust="spacingAndGlyphs">T</text>
<text x="1575.46" y="868.95" font-size="65" textLength="42.21" lengthAdjust="spacingAndGlyphs">=</text>
<text x="1614.19" y="868.95" font-size="65" textLength="32.5" lengthAdjust="spacingAndGlyphs">1</text>
<text x="1664.34" y="868.95" font-size="65" font-style="italic" textLength="41.2" lengthAdjust="spacingAndGlyphs">R</text>
<text x="1702.67" y="885.95" font-size="45" font-style="italic" textLength="27.25" lengthAdjust="spacingAndGlyphs">T</text>
<text x="1725.98" y="868.95" font-size="65" textLength="43.06" lengthAdjust="spacingAndGlyphs">=</text>
<text x="1764.99" y="868.95" font-size="65" textLength="32.5" lengthAdjust="spacingAndGlyphs">1</text>
<path d="M1350,949.80 L1496,949.80" stroke="#B177DE" stroke-width="14" stroke-linecap="round" fill="none" stroke-dasharray="48.6 42.6 9 42.8 9 43.2"/>
<text x="1520.25" y="971.90" font-size="65" font-style="italic" textLength="37.89" lengthAdjust="spacingAndGlyphs">η</text>
<text x="1551.78" y="988.90" font-size="45" font-style="italic" textLength="27.15" lengthAdjust="spacingAndGlyphs">T</text>
<text x="1575.46" y="971.90" font-size="65" textLength="42.21" lengthAdjust="spacingAndGlyphs">=</text>
<text x="1614.19" y="971.90" font-size="65" textLength="32.5" lengthAdjust="spacingAndGlyphs">1</text>
<text x="1664.34" y="971.90" font-size="65" font-style="italic" textLength="41.2" lengthAdjust="spacingAndGlyphs">R</text>
<text x="1702.67" y="988.90" font-size="45" font-style="italic" textLength="27.25" lengthAdjust="spacingAndGlyphs">T</text>
<text x="1725.98" y="971.90" font-size="65" textLength="43.06" lengthAdjust="spacingAndGlyphs">=</text>
<text x="1768.42" y="971.90" font-size="65" textLength="63.39" lengthAdjust="spacingAndGlyphs">10</text>
<text x="1346.5" y="1133.8" font-size="73"><tspan font-style="italic">z</tspan>=−4 m</text>
<text x="1347" y="1221.8" font-size="73">Layer 1</text>
<text x="232.45" y="1724" font-size="87" textLength="94.1" lengthAdjust="spacingAndGlyphs" class="cap">(<tspan font-weight="bold">a</tspan>)</text>
<text x="347.42" y="1724" font-size="87" textLength="215.42" lengthAdjust="spacingAndGlyphs" class="cap">Outer</text>
<text x="585.56" y="1724" font-size="87" textLength="237.22" lengthAdjust="spacingAndGlyphs" class="cap">radius</text>
<text x="841.58" y="1724" font-size="87" textLength="319.73" lengthAdjust="spacingAndGlyphs" class="cap">interface</text>
<text x="1181.37" y="1724" font-size="87" textLength="73.03" lengthAdjust="spacingAndGlyphs" class="cap">of</text>
<text x="1277.66" y="1724" font-size="87" textLength="114.69" lengthAdjust="spacingAndGlyphs" class="cap">the</text>
<text x="1412.9" y="1724" font-size="87" textLength="145.53" lengthAdjust="spacingAndGlyphs" class="cap">first</text>
<text x="1580.87" y="1724" font-size="87" textLength="183.22" lengthAdjust="spacingAndGlyphs" class="cap">layer</text>
<defs><clipPath id="clipB"><rect x="230" y="1785" width="1716" height="1379"/></clipPath></defs>
<g clip-path="url(#clipB)" fill="none" stroke-width="14" stroke-linecap="round" stroke-linejoin="round">
<path d="M227.50,3138.23 L228.08,3134.27 L228.66,3130.33 L229.24,3126.40 L229.81,3122.48 L230.39,3118.57 L230.97,3114.68 L231.55,3110.80 L232.13,3106.93 L232.71,3103.07 L233.29,3099.22 L233.87,3095.39 L234.44,3091.56 L235.02,3087.75 L235.60,3083.96 L236.18,3080.17 L236.76,3076.39 L237.34,3072.63 L237.92,3068.88 L238.49,3065.14 L239.07,3061.41 L239.65,3057.69 L240.23,3053.98 L240.81,3050.29 L241.39,3046.61 L241.97,3042.94 L242.55,3039.28 L243.12,3035.63 L243.70,3031.99 L244.28,3028.36 L244.86,3024.75 L245.44,3021.15 L246.02,3017.55 L246.60,3013.97 L247.17,3010.40 L247.75,3006.84 L248.33,3003.30 L248.91,2999.76 L249.49,2996.23 L250.07,2992.72 L250.65,2989.21 L251.22,2985.72 L251.80,2982.24 L252.38,2978.77 L252.96,2975.31 L253.54,2971.86 L254.12,2968.42 L254.70,2964.99 L255.28,2961.57 L255.85,2958.16 L256.43,2954.77 L257.01,2951.38 L257.59,2948.01 L258.17,2944.64 L258.75,2941.29 L259.33,2937.94 L259.90,2934.61 L260.48,2931.28 L261.06,2927.97 L261.64,2924.67 L262.22,2921.38 L262.80,2918.09 L263.38,2914.82 L263.96,2911.56 L264.53,2908.31 L265.11,2905.07 L265.69,2901.83 L266.27,2898.61 L266.85,2895.40 L267.43,2892.20 L268.01,2889.01 L268.58,2885.83 L269.16,2882.65 L269.74,2879.49 L270.32,2876.34 L270.90,2873.20 L271.48,2870.07 L272.06,2866.94 L272.64,2863.83 L273.21,2860.73 L273.79,2857.63 L274.37,2854.55 L274.95,2851.48 L275.53,2848.41 L276.11,2845.36 L276.69,2842.31 L277.26,2839.27 L277.84,2836.25 L278.42,2833.23 L279.00,2830.22 L279.58,2827.22 L280.16,2824.23 L280.74,2821.25 L281.31,2818.28 L281.89,2815.32 L282.47,2812.37 L283.05,2809.43 L283.63,2806.49 L284.21,2803.57 L284.79,2800.65 L285.37,2797.75 L285.94,2794.85 L286.52,2791.96 L287.10,2789.08 L287.68,2786.21 L288.26,2783.35 L288.84,2780.50 L289.42,2777.65 L289.99,2774.82 L290.57,2771.99 L291.15,2769.18 L291.73,2766.37 L292.31,2763.57 L292.89,2760.78 L293.47,2757.99 L294.05,2755.22 L294.62,2752.46 L295.20,2749.70 L295.78,2746.95 L296.36,2744.21 L298.09,2736.06 L299.82,2727.99 L301.56,2719.99 L303.29,2712.07 L305.02,2704.22 L306.75,2696.44 L308.49,2688.74 L310.22,2681.11 L311.95,2673.55 L313.68,2666.06 L315.42,2658.64 L317.15,2651.29 L318.88,2644.00 L320.61,2636.79 L322.34,2629.64 L324.08,2622.56 L325.81,2615.55 L327.54,2608.60 L329.27,2601.71 L331.01,2594.89 L332.74,2588.14 L334.47,2581.44 L336.20,2574.81 L337.94,2568.24 L339.67,2561.74 L341.40,2555.29 L343.13,2548.91 L344.87,2542.58 L346.60,2536.31 L348.33,2530.10 L350.06,2523.95 L351.79,2517.86 L353.53,2511.83 L355.26,2505.85 L356.99,2499.92 L358.72,2494.06 L360.46,2488.24 L362.19,2482.49 L363.92,2476.78 L365.65,2471.13 L367.39,2465.53 L369.12,2459.99 L370.85,2454.49 L372.58,2449.05 L374.31,2443.66 L376.05,2438.32 L377.78,2433.03 L379.51,2427.79 L381.24,2422.60 L382.98,2417.46 L384.71,2412.37 L386.44,2407.32 L388.17,2402.32 L389.91,2397.37 L391.64,2392.46 L393.37,2387.60 L395.10,2382.79 L396.83,2378.02 L398.57,2373.30 L400.30,2368.62 L402.03,2363.99 L403.76,2359.40 L405.50,2354.85 L407.23,2350.34 L408.96,2345.88 L410.69,2341.46 L412.43,2337.08 L414.16,2332.74 L415.89,2328.45 L417.62,2324.19 L419.36,2319.98 L421.09,2315.80 L422.82,2311.66 L424.55,2307.57 L426.28,2303.51 L428.02,2299.49 L429.75,2295.50 L431.48,2291.56 L433.21,2287.65 L434.95,2283.78 L436.68,2279.94 L438.41,2276.15 L440.14,2272.38 L441.88,2268.66 L443.61,2264.97 L445.34,2261.31 L447.07,2257.69 L448.80,2254.10 L450.54,2250.55 L452.27,2247.03 L454.00,2243.54 L455.73,2240.09 L457.47,2236.67 L459.20,2233.28 L460.93,2229.92 L462.66,2226.60 L464.40,2223.30 L466.13,2220.04 L467.86,2216.81 L469.59,2213.61 L471.33,2210.44 L473.06,2207.30 L474.79,2204.19 L476.52,2201.11 L478.25,2198.06 L479.99,2195.04 L481.72,2192.04 L483.45,2189.08 L485.18,2186.14 L486.92,2183.23 L488.65,2180.35 L490.38,2177.50 L492.11,2174.67 L493.85,2171.87 L495.58,2169.10 L497.31,2166.35 L499.04,2163.63 L500.77,2160.94 L502.51,2158.27 L504.24,2155.63 L505.97,2153.01 L507.70,2150.41 L509.44,2147.85 L511.17,2145.30 L512.90,2142.78 L514.63,2140.29 L516.37,2137.81 L518.10,2135.37 L519.83,2132.94 L521.56,2130.54 L523.29,2128.16 L525.03,2125.80 L526.76,2123.47 L528.49,2121.16 L530.22,2118.87 L531.96,2116.60 L533.69,2114.36 L535.42,2112.13 L537.15,2109.93 L538.89,2107.75 L540.62,2105.59 L542.35,2103.45 L544.08,2101.33 L545.82,2099.23 L547.55,2097.15 L549.28,2095.09 L551.01,2093.05 L552.74,2091.03 L554.48,2089.03 L556.21,2087.05 L557.94,2085.09 L559.67,2083.14 L561.41,2081.22 L563.14,2079.31 L564.87,2077.43 L566.60,2075.56 L568.34,2073.70 L570.07,2071.87 L571.80,2070.05 L578.72,2062.97 L585.64,2056.16 L592.56,2049.60 L599.48,2043.29 L606.40,2037.23 L613.32,2031.39 L620.24,2025.78 L627.16,2020.38 L634.09,2015.19 L641.01,2010.19 L647.93,2005.39 L654.85,2000.77 L661.77,1996.33 L668.69,1992.06 L675.61,1987.96 L682.53,1984.01 L689.45,1980.21 L696.37,1976.56 L703.29,1973.05 L710.21,1969.68 L717.13,1966.44 L724.05,1963.33 L730.97,1960.33 L737.89,1957.45 L744.82,1954.69 L751.74,1952.03 L758.66,1949.48 L765.58,1947.02 L772.50,1944.67 L779.42,1942.40 L786.34,1940.22 L793.26,1938.13 L800.18,1936.13 L807.10,1934.20 L814.02,1932.34 L820.94,1930.57 L827.86,1928.86 L834.78,1927.22 L841.70,1925.64 L848.62,1924.13 L855.54,1922.68 L862.47,1921.28 L869.39,1919.94 L876.31,1918.66 L883.23,1917.43 L890.15,1916.24 L897.07,1915.11 L903.99,1914.02 L910.91,1912.98 L917.83,1911.97 L924.75,1911.01 L931.67,1910.09 L938.59,1909.20 L945.51,1908.35 L952.43,1907.54 L959.35,1906.76 L966.27,1906.01 L973.19,1905.29 L980.12,1904.61 L987.04,1903.95 L993.96,1903.31 L1000.88,1902.71 L1007.80,1902.13 L1014.72,1901.57 L1021.64,1901.04 L1028.56,1900.53 L1035.48,1900.04 L1042.40,1899.57 L1049.32,1899.13 L1056.24,1898.70 L1063.16,1898.29 L1070.08,1897.89 L1077.00,1897.52 L1083.92,1897.16 L1090.85,1896.81 L1097.77,1896.48 L1104.69,1896.17 L1111.61,1895.87 L1118.53,1895.58 L1125.45,1895.30 L1132.37,1895.04 L1139.29,1894.79 L1146.21,1894.55 L1153.13,1894.32 L1160.05,1894.10 L1166.97,1893.89 L1173.89,1893.69 L1180.81,1893.50 L1187.73,1893.31 L1194.65,1893.14 L1201.57,1892.97 L1208.50,1892.82 L1215.42,1892.66 L1222.34,1892.52 L1229.26,1892.38 L1236.18,1892.25 L1243.10,1892.13 L1250.02,1892.01 L1256.94,1891.89 L1263.86,1891.79 L1270.78,1891.68 L1277.70,1891.59 L1284.62,1891.49 L1291.54,1891.41 L1298.46,1891.32 L1305.38,1891.24 L1312.30,1891.17 L1319.23,1891.09 L1326.15,1891.03 L1333.07,1890.96 L1339.99,1890.90 L1346.91,1890.84 L1353.83,1890.79 L1360.75,1890.73 L1367.67,1890.68 L1374.59,1890.64 L1381.51,1890.59 L1388.43,1890.55 L1395.35,1890.51 L1402.27,1890.47 L1409.19,1890.44 L1416.11,1890.41 L1423.03,1890.37 L1429.95,1890.35 L1436.88,1890.32 L1443.80,1890.29 L1450.72,1890.27 L1457.64,1890.24 L1464.56,1890.22 L1471.48,1890.20 L1478.40,1890.18 L1485.32,1890.17 L1492.24,1890.15 L1499.16,1890.14 L1506.08,1890.12 L1513.00,1890.11 L1519.92,1890.10 L1526.84,1890.09 L1533.76,1890.07 L1540.68,1890.07 L1547.61,1890.06 L1554.53,1890.05 L1561.45,1890.04 L1568.37,1890.03 L1575.29,1890.03 L1582.21,1890.02 L1589.13,1890.02 L1596.05,1890.01 L1602.97,1890.01 L1609.89,1890.01 L1616.81,1890.01 L1623.73,1890.00 L1630.65,1890.00 L1637.57,1890.00 L1644.49,1890.00 L1651.41,1890.00 L1658.33,1890.00 L1665.26,1890.00 L1672.18,1890.00 L1679.10,1890.00 L1686.02,1890.00 L1692.94,1890.00 L1699.86,1890.00 L1706.78,1890.00 L1713.70,1890.00 L1720.62,1890.00 L1727.54,1890.01 L1734.46,1890.01 L1741.38,1890.01 L1748.30,1890.01 L1755.22,1890.01 L1762.14,1890.02 L1769.06,1890.02 L1775.98,1890.02 L1782.91,1890.02 L1789.83,1890.03 L1796.75,1890.03 L1803.67,1890.03 L1810.59,1890.03 L1817.51,1890.04 L1824.43,1890.04 L1831.35,1890.04 L1838.27,1890.05 L1845.19,1890.05 L1852.11,1890.05 L1859.03,1890.06 L1865.95,1890.06 L1872.87,1890.06 L1879.79,1890.07 L1886.71,1890.07 L1893.64,1890.07 L1900.56,1890.07 L1907.48,1890.08 L1914.40,1890.08 L1921.32,1890.08 L1928.24,1890.09 L1935.16,1890.09 L1942.08,1890.09 L1949.00,1890.10" stroke="#515151"/>
<path d="M227.50,3138.29 L228.08,3134.35 L228.66,3130.41 L229.24,3126.49 L229.81,3122.58 L230.39,3118.68 L230.97,3114.79 L231.55,3110.92 L232.13,3107.06 L232.71,3103.21 L233.29,3099.37 L233.87,3095.54 L234.44,3091.73 L235.02,3087.93 L235.60,3084.14 L236.18,3080.36 L236.76,3076.59 L237.34,3072.83 L237.92,3069.09 L238.49,3065.36 L239.07,3061.64 L239.65,3057.93 L240.23,3054.23 L240.81,3050.54 L241.39,3046.87 L241.97,3043.20 L242.55,3039.55 L243.12,3035.91 L243.70,3032.28 L244.28,3028.66 L244.86,3025.06 L245.44,3021.46 L246.02,3017.88 L246.60,3014.30 L247.17,3010.74 L247.75,3007.19 L248.33,3003.65 L248.91,3000.12 L249.49,2996.60 L250.07,2993.10 L250.65,2989.60 L251.22,2986.11 L251.80,2982.64 L252.38,2979.17 L252.96,2975.72 L253.54,2972.28 L254.12,2968.85 L254.70,2965.43 L255.28,2962.02 L255.85,2958.62 L256.43,2955.23 L257.01,2951.85 L257.59,2948.48 L258.17,2945.12 L258.75,2941.77 L259.33,2938.44 L259.90,2935.11 L260.48,2931.79 L261.06,2928.49 L261.64,2925.19 L262.22,2921.91 L262.80,2918.63 L263.38,2915.37 L263.96,2912.11 L264.53,2908.87 L265.11,2905.63 L265.69,2902.41 L266.27,2899.19 L266.85,2895.99 L267.43,2892.80 L268.01,2889.61 L268.58,2886.44 L269.16,2883.27 L269.74,2880.12 L270.32,2876.97 L270.90,2873.84 L271.48,2870.71 L272.06,2867.59 L272.64,2864.49 L273.21,2861.39 L273.79,2858.30 L274.37,2855.23 L274.95,2852.16 L275.53,2849.10 L276.11,2846.05 L276.69,2843.01 L277.26,2839.98 L277.84,2836.96 L278.42,2833.95 L279.00,2830.95 L279.58,2827.96 L280.16,2824.98 L280.74,2822.00 L281.31,2819.04 L281.89,2816.08 L282.47,2813.14 L283.05,2810.20 L283.63,2807.27 L284.21,2804.36 L284.79,2801.45 L285.37,2798.55 L285.94,2795.66 L286.52,2792.77 L287.10,2789.90 L287.68,2787.04 L288.26,2784.18 L288.84,2781.33 L289.42,2778.50 L289.99,2775.67 L290.57,2772.85 L291.15,2770.04 L291.73,2767.24 L292.31,2764.44 L292.89,2761.66 L293.47,2758.88 L294.05,2756.11 L294.62,2753.35 L295.20,2750.60 L295.78,2747.86 L296.36,2745.13 L298.09,2737.00 L299.82,2728.94 L301.56,2720.96 L303.29,2713.06 L305.02,2705.22 L306.75,2697.46 L308.49,2689.78 L310.22,2682.16 L311.95,2674.62 L313.68,2667.14 L315.42,2659.74 L317.15,2652.40 L318.88,2645.14 L320.61,2637.94 L322.34,2630.81 L324.08,2623.74 L325.81,2616.74 L327.54,2609.81 L329.27,2602.94 L331.01,2596.13 L332.74,2589.39 L334.47,2582.71 L336.20,2576.10 L337.94,2569.54 L339.67,2563.05 L341.40,2556.62 L343.13,2550.25 L344.87,2543.93 L346.60,2537.68 L348.33,2531.48 L350.06,2525.35 L351.79,2519.27 L353.53,2513.25 L355.26,2507.28 L356.99,2501.37 L358.72,2495.51 L360.46,2489.71 L362.19,2483.97 L363.92,2478.28 L365.65,2472.64 L367.39,2467.05 L369.12,2461.52 L370.85,2456.04 L372.58,2450.61 L374.31,2445.23 L376.05,2439.90 L377.78,2434.62 L379.51,2429.39 L381.24,2424.21 L382.98,2419.08 L384.71,2414.00 L386.44,2408.97 L388.17,2403.98 L389.91,2399.04 L391.64,2394.14 L393.37,2389.29 L395.10,2384.49 L396.83,2379.73 L398.57,2375.02 L400.30,2370.35 L402.03,2365.73 L403.76,2361.15 L405.50,2356.61 L407.23,2352.11 L408.96,2347.66 L410.69,2343.25 L412.43,2338.88 L414.16,2334.55 L415.89,2330.27 L417.62,2326.02 L419.36,2321.81 L421.09,2317.65 L422.82,2313.52 L424.55,2309.43 L426.28,2305.38 L428.02,2301.37 L429.75,2297.39 L431.48,2293.46 L433.21,2289.56 L434.95,2285.69 L436.68,2281.87 L438.41,2278.08 L440.14,2274.32 L441.88,2270.61 L443.61,2266.92 L445.34,2263.27 L447.07,2259.66 L448.80,2256.08 L450.54,2252.53 L452.27,2249.02 L454.00,2245.54 L455.73,2242.10 L457.47,2238.68 L459.20,2235.30 L460.93,2231.95 L462.66,2228.64 L464.40,2225.35 L466.13,2222.09 L467.86,2218.87 L469.59,2215.68 L471.33,2212.51 L473.06,2209.38 L474.79,2206.28 L476.52,2203.20 L478.25,2200.16 L479.99,2197.14 L481.72,2194.16 L483.45,2191.20 L485.18,2188.27 L486.92,2185.37 L488.65,2182.49 L490.38,2179.64 L492.11,2176.82 L493.85,2174.03 L495.58,2171.26 L497.31,2168.52 L499.04,2165.81 L500.77,2163.12 L502.51,2160.46 L504.24,2157.82 L505.97,2155.21 L507.70,2152.62 L509.44,2150.05 L511.17,2147.52 L512.90,2145.00 L514.63,2142.51 L516.37,2140.05 L518.10,2137.60 L519.83,2135.18 L521.56,2132.79 L523.29,2130.41 L525.03,2128.06 L526.76,2125.73 L528.49,2123.43 L530.22,2121.14 L531.96,2118.88 L533.69,2116.64 L535.42,2114.42 L537.15,2112.22 L538.89,2110.05 L540.62,2107.89 L542.35,2105.75 L544.08,2103.64 L545.82,2101.54 L547.55,2099.47 L549.28,2097.42 L551.01,2095.38 L552.74,2093.36 L554.48,2091.37 L556.21,2089.39 L557.94,2087.43 L559.67,2085.49 L561.41,2083.57 L563.14,2081.67 L564.87,2079.79 L566.60,2077.92 L568.34,2076.07 L570.07,2074.24 L571.80,2072.43 L578.72,2065.36 L585.64,2058.56 L592.56,2052.02 L599.48,2045.73 L606.40,2039.68 L613.32,2033.85 L620.24,2028.25 L627.16,2022.87 L634.09,2017.68 L641.01,2012.70 L647.93,2007.91 L654.85,2003.30 L661.77,1998.87 L668.69,1994.61 L675.61,1990.51 L682.53,1986.57 L689.45,1982.78 L696.37,1979.14 L703.29,1975.64 L710.21,1972.28 L717.13,1969.04 L724.05,1965.94 L730.97,1962.95 L737.89,1960.08 L744.82,1957.32 L751.74,1954.66 L758.66,1952.12 L765.58,1949.67 L772.50,1947.32 L779.42,1945.06 L786.34,1942.88 L793.26,1940.80 L800.18,1938.79 L807.10,1936.87 L814.02,1935.02 L820.94,1933.25 L827.86,1931.54 L834.78,1929.90 L841.70,1928.33 L848.62,1926.82 L855.54,1925.37 L862.47,1923.98 L869.39,1922.65 L876.31,1921.37 L883.23,1920.14 L890.15,1918.96 L897.07,1917.82 L903.99,1916.74 L910.91,1915.69 L917.83,1914.69 L924.75,1913.73 L931.67,1912.81 L938.59,1911.93 L945.51,1911.08 L952.43,1910.27 L959.35,1909.49 L966.27,1908.74 L973.19,1908.03 L980.12,1907.34 L987.04,1906.68 L993.96,1906.05 L1000.88,1905.45 L1007.80,1904.87 L1014.72,1904.32 L1021.64,1903.79 L1028.56,1903.28 L1035.48,1902.79 L1042.40,1902.32 L1049.32,1901.88 L1056.24,1901.45 L1063.16,1901.04 L1070.08,1900.65 L1077.00,1900.27 L1083.92,1899.91 L1090.85,1899.57 L1097.77,1899.24 L1104.69,1898.92 L1111.61,1898.62 L1118.53,1898.34 L1125.45,1898.06 L1132.37,1897.80 L1139.29,1897.55 L1146.21,1897.31 L1153.13,1897.08 L1160.05,1896.86 L1166.97,1896.65 L1173.89,1896.45 L1180.81,1896.26 L1187.73,1896.08 L1194.65,1895.90 L1201.57,1895.74 L1208.50,1895.58 L1215.42,1895.43 L1222.34,1895.28 L1229.26,1895.15 L1236.18,1895.01 L1243.10,1894.89 L1250.02,1894.77 L1256.94,1894.66 L1263.86,1894.55 L1270.78,1894.45 L1277.70,1894.35 L1284.62,1894.26 L1291.54,1894.17 L1298.46,1894.09 L1305.38,1894.01 L1312.30,1893.93 L1319.23,1893.86 L1326.15,1893.79 L1333.07,1893.73 L1339.99,1893.67 L1346.91,1893.61 L1353.83,1893.55 L1360.75,1893.50 L1367.67,1893.45 L1374.59,1893.40 L1381.51,1893.36 L1388.43,1893.32 L1395.35,1893.28 L1402.27,1893.24 L1409.19,1893.21 L1416.11,1893.17 L1423.03,1893.14 L1429.95,1893.11 L1436.88,1893.09 L1443.80,1893.06 L1450.72,1893.04 L1457.64,1893.01 L1464.56,1892.99 L1471.48,1892.97 L1478.40,1892.95 L1485.32,1892.94 L1492.24,1892.92 L1499.16,1892.90 L1506.08,1892.89 L1513.00,1892.88 L1519.92,1892.86 L1526.84,1892.85 L1533.76,1892.84 L1540.68,1892.83 L1547.61,1892.83 L1554.53,1892.82 L1561.45,1892.81 L1568.37,1892.80 L1575.29,1892.80 L1582.21,1892.79 L1589.13,1892.79 L1596.05,1892.78 L1602.97,1892.78 L1609.89,1892.78 L1616.81,1892.77 L1623.73,1892.77 L1630.65,1892.77 L1637.57,1892.77 L1644.49,1892.77 L1651.41,1892.77 L1658.33,1892.77 L1665.26,1892.77 L1672.18,1892.77 L1679.10,1892.77 L1686.02,1892.77 L1692.94,1892.77 L1699.86,1892.77 L1706.78,1892.77 L1713.70,1892.77 L1720.62,1892.77 L1727.54,1892.77 L1734.46,1892.78 L1741.38,1892.78 L1748.30,1892.78 L1755.22,1892.78 L1762.14,1892.78 L1769.06,1892.79 L1775.98,1892.79 L1782.91,1892.79 L1789.83,1892.79 L1796.75,1892.80 L1803.67,1892.80 L1810.59,1892.80 L1817.51,1892.81 L1824.43,1892.81 L1831.35,1892.81 L1838.27,1892.82 L1845.19,1892.82 L1852.11,1892.82 L1859.03,1892.82 L1865.95,1892.83 L1872.87,1892.83 L1879.79,1892.83 L1886.71,1892.84 L1893.64,1892.84 L1900.56,1892.84 L1907.48,1892.85 L1914.40,1892.85 L1921.32,1892.85 L1928.24,1892.86 L1935.16,1892.86 L1942.08,1892.86 L1949.00,1892.86" stroke="#F14040" stroke-dasharray="53.7 73.9" stroke-dashoffset="23.58"/>
<path d="M227.50,3166.33 L228.08,3162.51 L228.66,3158.70 L229.24,3154.91 L229.81,3151.12 L230.39,3147.35 L230.97,3143.58 L231.55,3139.83 L232.13,3136.09 L232.71,3132.36 L233.29,3128.64 L233.87,3124.93 L234.44,3121.24 L235.02,3117.55 L235.60,3113.88 L236.18,3110.21 L236.76,3106.56 L237.34,3102.92 L237.92,3099.29 L238.49,3095.67 L239.07,3092.06 L239.65,3088.46 L240.23,3084.88 L240.81,3081.30 L241.39,3077.74 L241.97,3074.18 L242.55,3070.64 L243.12,3067.10 L243.70,3063.58 L244.28,3060.07 L244.86,3056.56 L245.44,3053.07 L246.02,3049.59 L246.60,3046.12 L247.17,3042.66 L247.75,3039.21 L248.33,3035.77 L248.91,3032.34 L249.49,3028.92 L250.07,3025.51 L250.65,3022.12 L251.22,3018.73 L251.80,3015.35 L252.38,3011.98 L252.96,3008.62 L253.54,3005.27 L254.12,3001.94 L254.70,2998.61 L255.28,2995.29 L255.85,2991.98 L256.43,2988.69 L257.01,2985.40 L257.59,2982.12 L258.17,2978.85 L258.75,2975.59 L259.33,2972.34 L259.90,2969.10 L260.48,2965.87 L261.06,2962.65 L261.64,2959.44 L262.22,2956.24 L262.80,2953.05 L263.38,2949.87 L263.96,2946.70 L264.53,2943.54 L265.11,2940.39 L265.69,2937.24 L266.27,2934.11 L266.85,2930.98 L267.43,2927.87 L268.01,2924.76 L268.58,2921.67 L269.16,2918.58 L269.74,2915.50 L270.32,2912.43 L270.90,2909.37 L271.48,2906.32 L272.06,2903.28 L272.64,2900.25 L273.21,2897.23 L273.79,2894.22 L274.37,2891.21 L274.95,2888.22 L275.53,2885.23 L276.11,2882.25 L276.69,2879.28 L277.26,2876.32 L277.84,2873.37 L278.42,2870.43 L279.00,2867.50 L279.58,2864.57 L280.16,2861.66 L280.74,2858.75 L281.31,2855.85 L281.89,2852.96 L282.47,2850.08 L283.05,2847.21 L283.63,2844.35 L284.21,2841.49 L284.79,2838.65 L285.37,2835.81 L285.94,2832.98 L286.52,2830.16 L287.10,2827.35 L287.68,2824.54 L288.26,2821.75 L288.84,2818.96 L289.42,2816.18 L289.99,2813.41 L290.57,2810.65 L291.15,2807.90 L291.73,2805.15 L292.31,2802.42 L292.89,2799.69 L293.47,2796.97 L294.05,2794.26 L294.62,2791.55 L295.20,2788.86 L295.78,2786.17 L296.36,2783.49 L298.09,2775.51 L299.82,2767.61 L301.56,2759.78 L303.29,2752.02 L305.02,2744.33 L306.75,2736.71 L308.49,2729.15 L310.22,2721.67 L311.95,2714.25 L313.68,2706.90 L315.42,2699.61 L317.15,2692.39 L318.88,2685.24 L320.61,2678.15 L322.34,2671.12 L324.08,2664.16 L325.81,2657.26 L327.54,2650.42 L329.27,2643.65 L331.01,2636.93 L332.74,2630.28 L334.47,2623.68 L336.20,2617.15 L337.94,2610.67 L339.67,2604.25 L341.40,2597.89 L343.13,2591.59 L344.87,2585.34 L346.60,2579.16 L348.33,2573.02 L350.06,2566.94 L351.79,2560.92 L353.53,2554.95 L355.26,2549.04 L356.99,2543.18 L358.72,2537.37 L360.46,2531.61 L362.19,2525.91 L363.92,2520.26 L365.65,2514.66 L367.39,2509.11 L369.12,2503.61 L370.85,2498.16 L372.58,2492.76 L374.31,2487.41 L376.05,2482.10 L377.78,2476.85 L379.51,2471.64 L381.24,2466.48 L382.98,2461.37 L384.71,2456.30 L386.44,2451.28 L388.17,2446.30 L389.91,2441.37 L391.64,2436.49 L393.37,2431.64 L395.10,2426.85 L396.83,2422.09 L398.57,2417.38 L400.30,2412.71 L402.03,2408.09 L403.76,2403.51 L405.50,2398.96 L407.23,2394.46 L408.96,2390.00 L410.69,2385.59 L412.43,2381.21 L414.16,2376.87 L415.89,2372.57 L417.62,2368.31 L419.36,2364.09 L421.09,2359.90 L422.82,2355.76 L424.55,2351.65 L426.28,2347.58 L428.02,2343.55 L429.75,2339.55 L431.48,2335.59 L433.21,2331.67 L434.95,2327.78 L436.68,2323.93 L438.41,2320.11 L440.14,2316.33 L441.88,2312.58 L443.61,2308.87 L445.34,2305.19 L447.07,2301.54 L448.80,2297.93 L450.54,2294.35 L452.27,2290.81 L454.00,2287.29 L455.73,2283.81 L457.47,2280.36 L459.20,2276.94 L460.93,2273.55 L462.66,2270.20 L464.40,2266.87 L466.13,2263.57 L467.86,2260.31 L469.59,2257.07 L471.33,2253.87 L473.06,2250.69 L474.79,2247.54 L476.52,2244.43 L478.25,2241.34 L479.99,2238.28 L481.72,2235.24 L483.45,2232.24 L485.18,2229.26 L486.92,2226.31 L488.65,2223.39 L490.38,2220.49 L492.11,2217.62 L493.85,2214.78 L495.58,2211.96 L497.31,2209.17 L499.04,2206.40 L500.77,2203.66 L502.51,2200.95 L504.24,2198.26 L505.97,2195.59 L507.70,2192.95 L509.44,2190.33 L511.17,2187.74 L512.90,2185.17 L514.63,2182.63 L516.37,2180.11 L518.10,2177.61 L519.83,2175.13 L521.56,2172.68 L523.29,2170.25 L525.03,2167.84 L526.76,2165.46 L528.49,2163.10 L530.22,2160.75 L531.96,2158.43 L533.69,2156.14 L535.42,2153.86 L537.15,2151.60 L538.89,2149.37 L540.62,2147.15 L542.35,2144.96 L544.08,2142.79 L545.82,2140.63 L547.55,2138.50 L549.28,2136.39 L551.01,2134.29 L552.74,2132.22 L554.48,2130.16 L556.21,2128.13 L557.94,2126.11 L559.67,2124.11 L561.41,2122.13 L563.14,2120.17 L564.87,2118.22 L566.60,2116.30 L568.34,2114.39 L570.07,2112.50 L571.80,2110.63 L578.72,2103.32 L585.64,2096.28 L592.56,2089.50 L599.48,2082.97 L606.40,2076.67 L613.32,2070.61 L620.24,2064.77 L627.16,2059.15 L634.09,2053.74 L641.01,2048.52 L647.93,2043.50 L654.85,2038.67 L661.77,2034.01 L668.69,2029.53 L675.61,2025.21 L682.53,2021.06 L689.45,2017.06 L696.37,2013.21 L703.29,2009.50 L710.21,2005.93 L717.13,2002.50 L724.05,1999.19 L730.97,1996.01 L737.89,1992.95 L744.82,1990.01 L751.74,1987.17 L758.66,1984.44 L765.58,1981.82 L772.50,1979.29 L779.42,1976.87 L786.34,1974.53 L793.26,1972.28 L800.18,1970.12 L807.10,1968.04 L814.02,1966.04 L820.94,1964.12 L827.86,1962.27 L834.78,1960.49 L841.70,1958.78 L848.62,1957.14 L855.54,1955.56 L862.47,1954.04 L869.39,1952.58 L876.31,1951.18 L883.23,1949.83 L890.15,1948.53 L897.07,1947.29 L903.99,1946.09 L910.91,1944.94 L917.83,1943.84 L924.75,1942.77 L931.67,1941.76 L938.59,1940.78 L945.51,1939.84 L952.43,1938.93 L959.35,1938.07 L966.27,1937.24 L973.19,1936.44 L980.12,1935.67 L987.04,1934.94 L993.96,1934.23 L1000.88,1933.55 L1007.80,1932.90 L1014.72,1932.28 L1021.64,1931.68 L1028.56,1931.11 L1035.48,1930.56 L1042.40,1930.03 L1049.32,1929.52 L1056.24,1929.04 L1063.16,1928.57 L1070.08,1928.13 L1077.00,1927.70 L1083.92,1927.29 L1090.85,1926.90 L1097.77,1926.52 L1104.69,1926.16 L1111.61,1925.82 L1118.53,1925.49 L1125.45,1925.17 L1132.37,1924.87 L1139.29,1924.58 L1146.21,1924.30 L1153.13,1924.04 L1160.05,1923.78 L1166.97,1923.54 L1173.89,1923.31 L1180.81,1923.09 L1187.73,1922.88 L1194.65,1922.67 L1201.57,1922.48 L1208.50,1922.30 L1215.42,1922.12 L1222.34,1921.95 L1229.26,1921.79 L1236.18,1921.64 L1243.10,1921.49 L1250.02,1921.35 L1256.94,1921.22 L1263.86,1921.09 L1270.78,1920.97 L1277.70,1920.86 L1284.62,1920.75 L1291.54,1920.64 L1298.46,1920.54 L1305.38,1920.45 L1312.30,1920.36 L1319.23,1920.27 L1326.15,1920.19 L1333.07,1920.11 L1339.99,1920.04 L1346.91,1919.97 L1353.83,1919.91 L1360.75,1919.84 L1367.67,1919.78 L1374.59,1919.73 L1381.51,1919.67 L1388.43,1919.62 L1395.35,1919.58 L1402.27,1919.53 L1409.19,1919.49 L1416.11,1919.45 L1423.03,1919.41 L1429.95,1919.38 L1436.88,1919.34 L1443.80,1919.31 L1450.72,1919.28 L1457.64,1919.25 L1464.56,1919.23 L1471.48,1919.20 L1478.40,1919.18 L1485.32,1919.16 L1492.24,1919.14 L1499.16,1919.12 L1506.08,1919.10 L1513.00,1919.09 L1519.92,1919.07 L1526.84,1919.06 L1533.76,1919.05 L1540.68,1919.03 L1547.61,1919.02 L1554.53,1919.01 L1561.45,1919.00 L1568.37,1919.00 L1575.29,1918.99 L1582.21,1918.98 L1589.13,1918.98 L1596.05,1918.97 L1602.97,1918.97 L1609.89,1918.96 L1616.81,1918.96 L1623.73,1918.96 L1630.65,1918.95 L1637.57,1918.95 L1644.49,1918.95 L1651.41,1918.95 L1658.33,1918.95 L1665.26,1918.95 L1672.18,1918.95 L1679.10,1918.95 L1686.02,1918.95 L1692.94,1918.95 L1699.86,1918.95 L1706.78,1918.96 L1713.70,1918.96 L1720.62,1918.96 L1727.54,1918.96 L1734.46,1918.96 L1741.38,1918.97 L1748.30,1918.97 L1755.22,1918.97 L1762.14,1918.98 L1769.06,1918.98 L1775.98,1918.98 L1782.91,1918.99 L1789.83,1918.99 L1796.75,1918.99 L1803.67,1919.00 L1810.59,1919.00 L1817.51,1919.01 L1824.43,1919.01 L1831.35,1919.01 L1838.27,1919.02 L1845.19,1919.02 L1852.11,1919.03 L1859.03,1919.03 L1865.95,1919.03 L1872.87,1919.04 L1879.79,1919.04 L1886.71,1919.05 L1893.64,1919.05 L1900.56,1919.06 L1907.48,1919.06 L1914.40,1919.06 L1921.32,1919.07 L1928.24,1919.07 L1935.16,1919.08 L1942.08,1919.08 L1949.00,1919.08" stroke="#1A6FDF" stroke-dasharray="21.3 36.4" stroke-dashoffset="5.88"/>
<path d="M231.97,3167.00 L232.51,3165.27 L233.05,3163.54 L233.59,3161.80 L234.14,3160.07 L234.68,3158.33 L235.22,3156.58 L235.76,3154.84 L236.30,3153.09 L236.84,3151.34 L237.38,3149.59 L237.92,3147.84 L238.46,3146.08 L239.01,3144.32 L239.55,3142.56 L240.09,3140.80 L240.63,3139.04 L241.17,3137.27 L241.71,3135.50 L242.25,3133.74 L242.79,3131.96 L243.33,3130.19 L243.88,3128.42 L244.42,3126.64 L244.96,3124.87 L245.50,3123.09 L246.04,3121.31 L246.58,3119.53 L247.12,3117.75 L247.66,3115.97 L248.20,3114.19 L248.74,3112.40 L249.29,3110.62 L249.83,3108.83 L250.37,3107.04 L250.91,3105.26 L251.45,3103.47 L251.99,3101.68 L252.53,3099.89 L253.07,3098.10 L253.61,3096.31 L254.16,3094.52 L254.70,3092.72 L255.24,3090.93 L255.78,3089.14 L256.32,3087.35 L256.86,3085.55 L257.40,3083.76 L257.94,3081.97 L258.48,3080.17 L259.03,3078.38 L259.57,3076.59 L260.11,3074.79 L260.65,3073.00 L261.19,3071.21 L261.73,3069.41 L262.27,3067.62 L262.81,3065.83 L263.35,3064.03 L263.90,3062.24 L264.44,3060.45 L264.98,3058.66 L265.52,3056.86 L266.06,3055.07 L266.60,3053.28 L267.14,3051.49 L267.68,3049.70 L268.22,3047.91 L268.76,3046.12 L269.31,3044.34 L269.85,3042.55 L270.39,3040.76 L270.93,3038.98 L271.47,3037.19 L272.01,3035.41 L272.55,3033.62 L273.09,3031.84 L273.63,3030.06 L274.18,3028.28 L274.72,3026.50 L275.26,3024.72 L275.80,3022.94 L276.34,3021.16 L276.88,3019.39 L277.42,3017.61 L277.96,3015.84 L278.50,3014.06 L279.05,3012.29 L279.59,3010.52 L280.13,3008.75 L280.67,3006.99 L281.21,3005.22 L281.75,3003.45 L282.29,3001.69 L282.83,2999.93 L283.37,2998.17 L283.92,2996.41 L284.46,2994.65 L285.00,2992.89 L285.54,2991.13 L286.08,2989.38 L286.62,2987.63 L287.16,2985.88 L287.70,2984.13 L288.24,2982.38 L288.78,2980.63 L289.33,2978.89 L289.87,2977.14 L290.41,2975.40 L290.95,2973.66 L291.49,2971.92 L292.03,2970.19 L292.57,2968.45 L293.11,2966.72 L293.65,2964.99 L294.20,2963.26 L294.74,2961.53 L295.28,2959.81 L295.82,2958.08 L296.36,2956.36 L298.09,2950.86 L299.82,2945.38 L301.56,2939.91 L303.29,2934.47 L305.02,2929.05 L306.75,2923.66 L308.49,2918.28 L310.22,2912.93 L311.95,2907.60 L313.68,2902.29 L315.42,2897.01 L317.15,2891.75 L318.88,2886.51 L320.61,2881.30 L322.34,2876.11 L324.08,2870.95 L325.81,2865.82 L327.54,2860.71 L329.27,2855.62 L331.01,2850.56 L332.74,2845.53 L334.47,2840.53 L336.20,2835.55 L337.94,2830.59 L339.67,2825.67 L341.40,2820.77 L343.13,2815.90 L344.87,2811.05 L346.60,2806.23 L348.33,2801.44 L350.06,2796.68 L351.79,2791.94 L353.53,2787.24 L355.26,2782.56 L356.99,2777.90 L358.72,2773.28 L360.46,2768.68 L362.19,2764.11 L363.92,2759.57 L365.65,2755.05 L367.39,2750.57 L369.12,2746.11 L370.85,2741.68 L372.58,2737.27 L374.31,2732.90 L376.05,2728.55 L377.78,2724.23 L379.51,2719.94 L381.24,2715.67 L382.98,2711.43 L384.71,2707.22 L386.44,2703.04 L388.17,2698.89 L389.91,2694.76 L391.64,2690.66 L393.37,2686.58 L395.10,2682.53 L396.83,2678.51 L398.57,2674.52 L400.30,2670.55 L402.03,2666.61 L403.76,2662.70 L405.50,2658.81 L407.23,2654.95 L408.96,2651.12 L410.69,2647.31 L412.43,2643.53 L414.16,2639.77 L415.89,2636.04 L417.62,2632.34 L419.36,2628.66 L421.09,2625.01 L422.82,2621.38 L424.55,2617.78 L426.28,2614.20 L428.02,2610.65 L429.75,2607.12 L431.48,2603.62 L433.21,2600.14 L434.95,2596.69 L436.68,2593.26 L438.41,2589.85 L440.14,2586.47 L441.88,2583.12 L443.61,2579.78 L445.34,2576.48 L447.07,2573.19 L448.80,2569.93 L450.54,2566.69 L452.27,2563.48 L454.00,2560.29 L455.73,2557.12 L457.47,2553.97 L459.20,2550.85 L460.93,2547.75 L462.66,2544.67 L464.40,2541.62 L466.13,2538.59 L467.86,2535.57 L469.59,2532.59 L471.33,2529.62 L473.06,2526.67 L474.79,2523.75 L476.52,2520.85 L478.25,2517.97 L479.99,2515.11 L481.72,2512.27 L483.45,2509.45 L485.18,2506.65 L486.92,2503.88 L488.65,2501.12 L490.38,2498.38 L492.11,2495.67 L493.85,2492.97 L495.58,2490.30 L497.31,2487.64 L499.04,2485.01 L500.77,2482.39 L502.51,2479.79 L504.24,2477.22 L505.97,2474.66 L507.70,2472.12 L509.44,2469.60 L511.17,2467.10 L512.90,2464.61 L514.63,2462.15 L516.37,2459.70 L518.10,2457.27 L519.83,2454.86 L521.56,2452.47 L523.29,2450.10 L525.03,2447.74 L526.76,2445.41 L528.49,2443.08 L530.22,2440.78 L531.96,2438.50 L533.69,2436.23 L535.42,2433.97 L537.15,2431.74 L538.89,2429.52 L540.62,2427.32 L542.35,2425.14 L544.08,2422.97 L545.82,2420.82 L547.55,2418.68 L549.28,2416.56 L551.01,2414.46 L552.74,2412.37 L554.48,2410.30 L556.21,2408.24 L557.94,2406.20 L559.67,2404.18 L561.41,2402.17 L563.14,2400.17 L564.87,2398.19 L566.60,2396.23 L568.34,2394.28 L570.07,2392.34 L571.80,2390.42 L578.72,2382.89 L585.64,2375.59 L592.56,2368.51 L599.48,2361.64 L606.40,2354.97 L613.32,2348.51 L620.24,2342.24 L627.16,2336.16 L634.09,2330.27 L641.01,2324.55 L647.93,2319.00 L654.85,2313.62 L661.77,2308.41 L668.69,2303.35 L675.61,2298.44 L682.53,2293.69 L689.45,2289.07 L696.37,2284.60 L703.29,2280.26 L710.21,2276.05 L717.13,2271.97 L724.05,2268.02 L730.97,2264.18 L737.89,2260.46 L744.82,2256.85 L751.74,2253.35 L758.66,2249.96 L765.58,2246.67 L772.50,2243.48 L779.42,2240.38 L786.34,2237.39 L793.26,2234.48 L800.18,2231.66 L807.10,2228.92 L814.02,2226.27 L820.94,2223.70 L827.86,2221.20 L834.78,2218.78 L841.70,2216.44 L848.62,2214.16 L855.54,2211.96 L862.47,2209.82 L869.39,2207.75 L876.31,2205.74 L883.23,2203.79 L890.15,2201.90 L897.07,2200.06 L903.99,2198.29 L910.91,2196.56 L917.83,2194.89 L924.75,2193.27 L931.67,2191.70 L938.59,2190.18 L945.51,2188.70 L952.43,2187.27 L959.35,2185.88 L966.27,2184.53 L973.19,2183.22 L980.12,2181.96 L987.04,2180.73 L993.96,2179.54 L1000.88,2178.38 L1007.80,2177.26 L1014.72,2176.18 L1021.64,2175.12 L1028.56,2174.10 L1035.48,2173.11 L1042.40,2172.15 L1049.32,2171.22 L1056.24,2170.32 L1063.16,2169.44 L1070.08,2168.59 L1077.00,2167.77 L1083.92,2166.97 L1090.85,2166.20 L1097.77,2165.45 L1104.69,2164.72 L1111.61,2164.02 L1118.53,2163.33 L1125.45,2162.67 L1132.37,2162.02 L1139.29,2161.40 L1146.21,2160.80 L1153.13,2160.21 L1160.05,2159.64 L1166.97,2159.09 L1173.89,2158.55 L1180.81,2158.04 L1187.73,2157.53 L1194.65,2157.04 L1201.57,2156.57 L1208.50,2156.11 L1215.42,2155.67 L1222.34,2155.24 L1229.26,2154.82 L1236.18,2154.41 L1243.10,2154.02 L1250.02,2153.64 L1256.94,2153.27 L1263.86,2152.91 L1270.78,2152.57 L1277.70,2152.23 L1284.62,2151.90 L1291.54,2151.58 L1298.46,2151.28 L1305.38,2150.98 L1312.30,2150.69 L1319.23,2150.41 L1326.15,2150.14 L1333.07,2149.88 L1339.99,2149.62 L1346.91,2149.37 L1353.83,2149.13 L1360.75,2148.90 L1367.67,2148.67 L1374.59,2148.46 L1381.51,2148.24 L1388.43,2148.04 L1395.35,2147.84 L1402.27,2147.64 L1409.19,2147.46 L1416.11,2147.27 L1423.03,2147.10 L1429.95,2146.93 L1436.88,2146.76 L1443.80,2146.60 L1450.72,2146.44 L1457.64,2146.29 L1464.56,2146.15 L1471.48,2146.00 L1478.40,2145.87 L1485.32,2145.73 L1492.24,2145.60 L1499.16,2145.48 L1506.08,2145.35 L1513.00,2145.24 L1519.92,2145.12 L1526.84,2145.01 L1533.76,2144.90 L1540.68,2144.80 L1547.61,2144.70 L1554.53,2144.60 L1561.45,2144.50 L1568.37,2144.41 L1575.29,2144.32 L1582.21,2144.23 L1589.13,2144.15 L1596.05,2144.07 L1602.97,2143.99 L1609.89,2143.91 L1616.81,2143.84 L1623.73,2143.77 L1630.65,2143.70 L1637.57,2143.63 L1644.49,2143.56 L1651.41,2143.50 L1658.33,2143.44 L1665.26,2143.38 L1672.18,2143.32 L1679.10,2143.26 L1686.02,2143.21 L1692.94,2143.15 L1699.86,2143.10 L1706.78,2143.05 L1713.70,2143.00 L1720.62,2142.96 L1727.54,2142.91 L1734.46,2142.87 L1741.38,2142.82 L1748.30,2142.78 L1755.22,2142.74 L1762.14,2142.70 L1769.06,2142.67 L1775.98,2142.63 L1782.91,2142.59 L1789.83,2142.56 L1796.75,2142.53 L1803.67,2142.49 L1810.59,2142.46 L1817.51,2142.43 L1824.43,2142.40 L1831.35,2142.37 L1838.27,2142.34 L1845.19,2142.32 L1852.11,2142.29 L1859.03,2142.27 L1865.95,2142.24 L1872.87,2142.22 L1879.79,2142.19 L1886.71,2142.17 L1893.64,2142.15 L1900.56,2142.13 L1907.48,2142.11 L1914.40,2142.09 L1921.32,2142.07 L1928.24,2142.05 L1935.16,2142.03 L1942.08,2142.02 L1949.00,2142.00" stroke="#37AD6B" stroke-dasharray="66.7 42.5 9.3 42.5" stroke-dashoffset="1.15"/>
<path d="M227.50,3165.59 L228.08,3165.43 L228.66,3165.28 L229.24,3165.12 L229.81,3164.95 L230.39,3164.78 L230.97,3164.61 L231.55,3164.44 L232.13,3164.26 L232.71,3164.08 L233.29,3163.90 L233.87,3163.72 L234.44,3163.53 L235.02,3163.33 L235.60,3163.14 L236.18,3162.94 L236.76,3162.74 L237.34,3162.54 L237.92,3162.33 L238.49,3162.12 L239.07,3161.91 L239.65,3161.69 L240.23,3161.48 L240.81,3161.26 L241.39,3161.03 L241.97,3160.81 L242.55,3160.58 L243.12,3160.35 L243.70,3160.12 L244.28,3159.88 L244.86,3159.65 L245.44,3159.41 L246.02,3159.16 L246.60,3158.92 L247.17,3158.67 L247.75,3158.42 L248.33,3158.17 L248.91,3157.92 L249.49,3157.66 L250.07,3157.40 L250.65,3157.14 L251.22,3156.88 L251.80,3156.62 L252.38,3156.35 L252.96,3156.08 L253.54,3155.81 L254.12,3155.54 L254.70,3155.26 L255.28,3154.99 L255.85,3154.71 L256.43,3154.43 L257.01,3154.14 L257.59,3153.86 L258.17,3153.57 L258.75,3153.29 L259.33,3153.00 L259.90,3152.71 L260.48,3152.41 L261.06,3152.12 L261.64,3151.82 L262.22,3151.52 L262.80,3151.22 L263.38,3150.92 L263.96,3150.62 L264.53,3150.32 L265.11,3150.01 L265.69,3149.70 L266.27,3149.39 L266.85,3149.08 L267.43,3148.77 L268.01,3148.46 L268.58,3148.14 L269.16,3147.83 L269.74,3147.51 L270.32,3147.19 L270.90,3146.87 L271.48,3146.55 L272.06,3146.23 L272.64,3145.90 L273.21,3145.58 L273.79,3145.25 L274.37,3144.92 L274.95,3144.59 L275.53,3144.26 L276.11,3143.93 L276.69,3143.60 L277.26,3143.27 L277.84,3142.93 L278.42,3142.59 L279.00,3142.26 L279.58,3141.92 L280.16,3141.58 L280.74,3141.24 L281.31,3140.90 L281.89,3140.56 L282.47,3140.21 L283.05,3139.87 L283.63,3139.52 L284.21,3139.18 L284.79,3138.83 L285.37,3138.48 L285.94,3138.13 L286.52,3137.78 L287.10,3137.43 L287.68,3137.08 L288.26,3136.73 L288.84,3136.37 L289.42,3136.02 L289.99,3135.66 L290.57,3135.31 L291.15,3134.95 L291.73,3134.60 L292.31,3134.24 L292.89,3133.88 L293.47,3133.52 L294.05,3133.16 L294.62,3132.80 L295.20,3132.44 L295.78,3132.07 L296.36,3131.71 L298.09,3130.62 L299.82,3129.52 L301.56,3128.42 L303.29,3127.32 L305.02,3126.21 L306.75,3125.09 L308.49,3123.97 L310.22,3122.85 L311.95,3121.73 L313.68,3120.60 L315.42,3119.46 L317.15,3118.33 L318.88,3117.19 L320.61,3116.05 L322.34,3114.91 L324.08,3113.77 L325.81,3112.62 L327.54,3111.47 L329.27,3110.33 L331.01,3109.18 L332.74,3108.03 L334.47,3106.88 L336.20,3105.72 L337.94,3104.57 L339.67,3103.42 L341.40,3102.27 L343.13,3101.12 L344.87,3099.96 L346.60,3098.81 L348.33,3097.66 L350.06,3096.51 L351.79,3095.36 L353.53,3094.21 L355.26,3093.06 L356.99,3091.92 L358.72,3090.77 L360.46,3089.63 L362.19,3088.48 L363.92,3087.34 L365.65,3086.20 L367.39,3085.06 L369.12,3083.93 L370.85,3082.79 L372.58,3081.66 L374.31,3080.53 L376.05,3079.40 L377.78,3078.27 L379.51,3077.15 L381.24,3076.03 L382.98,3074.91 L384.71,3073.79 L386.44,3072.68 L388.17,3071.57 L389.91,3070.46 L391.64,3069.35 L393.37,3068.25 L395.10,3067.15 L396.83,3066.05 L398.57,3064.95 L400.30,3063.86 L402.03,3062.77 L403.76,3061.68 L405.50,3060.60 L407.23,3059.52 L408.96,3058.44 L410.69,3057.37 L412.43,3056.30 L414.16,3055.23 L415.89,3054.17 L417.62,3053.11 L419.36,3052.05 L421.09,3050.99 L422.82,3049.94 L424.55,3048.89 L426.28,3047.85 L428.02,3046.81 L429.75,3045.77 L431.48,3044.74 L433.21,3043.71 L434.95,3042.68 L436.68,3041.66 L438.41,3040.64 L440.14,3039.62 L441.88,3038.61 L443.61,3037.60 L445.34,3036.60 L447.07,3035.59 L448.80,3034.60 L450.54,3033.60 L452.27,3032.61 L454.00,3031.62 L455.73,3030.64 L457.47,3029.66 L459.20,3028.69 L460.93,3027.71 L462.66,3026.74 L464.40,3025.78 L466.13,3024.82 L467.86,3023.86 L469.59,3022.91 L471.33,3021.96 L473.06,3021.01 L474.79,3020.07 L476.52,3019.13 L478.25,3018.19 L479.99,3017.26 L481.72,3016.33 L483.45,3015.41 L485.18,3014.49 L486.92,3013.57 L488.65,3012.66 L490.38,3011.75 L492.11,3010.84 L493.85,3009.94 L495.58,3009.04 L497.31,3008.14 L499.04,3007.25 L500.77,3006.37 L502.51,3005.48 L504.24,3004.60 L505.97,3003.72 L507.70,3002.85 L509.44,3001.98 L511.17,3001.12 L512.90,3000.25 L514.63,2999.40 L516.37,2998.54 L518.10,2997.69 L519.83,2996.84 L521.56,2996.00 L523.29,2995.16 L525.03,2994.32 L526.76,2993.49 L528.49,2992.66 L530.22,2991.83 L531.96,2991.01 L533.69,2990.19 L535.42,2989.37 L537.15,2988.56 L538.89,2987.75 L540.62,2986.94 L542.35,2986.14 L544.08,2985.34 L545.82,2984.55 L547.55,2983.76 L549.28,2982.97 L551.01,2982.18 L552.74,2981.40 L554.48,2980.62 L556.21,2979.85 L557.94,2979.08 L559.67,2978.31 L561.41,2977.55 L563.14,2976.79 L564.87,2976.03 L566.60,2975.27 L568.34,2974.52 L570.07,2973.77 L571.80,2973.03 L578.72,2970.09 L585.64,2967.20 L592.56,2964.36 L599.48,2961.57 L606.40,2958.82 L613.32,2956.13 L620.24,2953.49 L627.16,2950.89 L634.09,2948.34 L641.01,2945.83 L647.93,2943.37 L654.85,2940.95 L661.77,2938.58 L668.69,2936.25 L675.61,2933.96 L682.53,2931.71 L689.45,2929.50 L696.37,2927.33 L703.29,2925.20 L710.21,2923.11 L717.13,2921.06 L724.05,2919.04 L730.97,2917.06 L737.89,2915.11 L744.82,2913.21 L751.74,2911.33 L758.66,2909.49 L765.58,2907.68 L772.50,2905.91 L779.42,2904.16 L786.34,2902.45 L793.26,2900.77 L800.18,2899.12 L807.10,2897.50 L814.02,2895.91 L820.94,2894.34 L827.86,2892.81 L834.78,2891.30 L841.70,2889.82 L848.62,2888.37 L855.54,2886.94 L862.47,2885.54 L869.39,2884.17 L876.31,2882.82 L883.23,2881.49 L890.15,2880.19 L897.07,2878.91 L903.99,2877.66 L910.91,2876.42 L917.83,2875.21 L924.75,2874.03 L931.67,2872.86 L938.59,2871.71 L945.51,2870.59 L952.43,2869.48 L959.35,2868.40 L966.27,2867.33 L973.19,2866.29 L980.12,2865.26 L987.04,2864.25 L993.96,2863.26 L1000.88,2862.29 L1007.80,2861.34 L1014.72,2860.40 L1021.64,2859.48 L1028.56,2858.58 L1035.48,2857.69 L1042.40,2856.82 L1049.32,2855.96 L1056.24,2855.12 L1063.16,2854.30 L1070.08,2853.49 L1077.00,2852.69 L1083.92,2851.91 L1090.85,2851.15 L1097.77,2850.40 L1104.69,2849.66 L1111.61,2848.93 L1118.53,2848.22 L1125.45,2847.52 L1132.37,2846.83 L1139.29,2846.16 L1146.21,2845.50 L1153.13,2844.84 L1160.05,2844.21 L1166.97,2843.58 L1173.89,2842.96 L1180.81,2842.36 L1187.73,2841.77 L1194.65,2841.18 L1201.57,2840.61 L1208.50,2840.05 L1215.42,2839.50 L1222.34,2838.96 L1229.26,2838.42 L1236.18,2837.90 L1243.10,2837.39 L1250.02,2836.89 L1256.94,2836.39 L1263.86,2835.91 L1270.78,2835.43 L1277.70,2834.96 L1284.62,2834.50 L1291.54,2834.05 L1298.46,2833.61 L1305.38,2833.17 L1312.30,2832.75 L1319.23,2832.33 L1326.15,2831.91 L1333.07,2831.51 L1339.99,2831.11 L1346.91,2830.72 L1353.83,2830.34 L1360.75,2829.96 L1367.67,2829.60 L1374.59,2829.23 L1381.51,2828.88 L1388.43,2828.53 L1395.35,2828.18 L1402.27,2827.85 L1409.19,2827.52 L1416.11,2827.19 L1423.03,2826.87 L1429.95,2826.56 L1436.88,2826.25 L1443.80,2825.95 L1450.72,2825.66 L1457.64,2825.36 L1464.56,2825.08 L1471.48,2824.80 L1478.40,2824.52 L1485.32,2824.25 L1492.24,2823.99 L1499.16,2823.73 L1506.08,2823.47 L1513.00,2823.22 L1519.92,2822.97 L1526.84,2822.73 L1533.76,2822.49 L1540.68,2822.26 L1547.61,2822.03 L1554.53,2821.80 L1561.45,2821.58 L1568.37,2821.36 L1575.29,2821.15 L1582.21,2820.94 L1589.13,2820.73 L1596.05,2820.53 L1602.97,2820.33 L1609.89,2820.14 L1616.81,2819.95 L1623.73,2819.76 L1630.65,2819.58 L1637.57,2819.40 L1644.49,2819.22 L1651.41,2819.04 L1658.33,2818.87 L1665.26,2818.70 L1672.18,2818.54 L1679.10,2818.38 L1686.02,2818.22 L1692.94,2818.06 L1699.86,2817.91 L1706.78,2817.76 L1713.70,2817.61 L1720.62,2817.46 L1727.54,2817.32 L1734.46,2817.18 L1741.38,2817.04 L1748.30,2816.91 L1755.22,2816.78 L1762.14,2816.65 L1769.06,2816.52 L1775.98,2816.39 L1782.91,2816.27 L1789.83,2816.15 L1796.75,2816.03 L1803.67,2815.91 L1810.59,2815.80 L1817.51,2815.68 L1824.43,2815.57 L1831.35,2815.47 L1838.27,2815.36 L1845.19,2815.25 L1852.11,2815.15 L1859.03,2815.05 L1865.95,2814.95 L1872.87,2814.85 L1879.79,2814.76 L1886.71,2814.67 L1893.64,2814.57 L1900.56,2814.48 L1907.48,2814.39 L1914.40,2814.31 L1921.32,2814.22 L1928.24,2814.14 L1935.16,2814.06 L1942.08,2813.97 L1949.00,2813.89" stroke="#B177DE" stroke-dasharray="48.3 42.3 9 42.5 9 42.9" stroke-dashoffset="193.08"/>
</g>
<text x="783" y="2328.5" font-size="72" font-weight="bold" fill="#000000">36.90 °C</text>
<text x="783" y="2419.5" font-size="72" font-weight="bold" fill="#FF0000">36.82 °C</text>
<text x="783" y="2510.5" font-size="72" font-weight="bold" fill="#1A6FDF">36.06 °C</text>
<text x="783" y="2600.5" font-size="72" font-weight="bold" fill="#37AD6B">29.64 °C</text>
<text x="783" y="2690.5" font-size="72" font-weight="bold" fill="#B177DE">10.33 °C</text>
<line x1="1096" y1="1892" x2="1099" y2="2809" stroke="#000" stroke-width="8"/>
<path d="M1099.5,2846.5 L1091.0,2812.5 L1108.0,2812.5 Z" fill="#000" stroke="#000" stroke-width="7" stroke-linejoin="round"/>
<g stroke="#000" stroke-width="6" fill="none">
<rect x="227" y="1782" width="1722" height="1385" stroke-linejoin="miter"/>
<line x1="227" y1="3080.50" x2="242" y2="3080.50"/>
<line x1="1949" y1="3080.50" x2="1934" y2="3080.50"/>
<line x1="227" y1="2994.00" x2="255" y2="2994.00"/>
<line x1="1949" y1="2994.00" x2="1921" y2="2994.00"/>
<line x1="227" y1="2907.50" x2="242" y2="2907.50"/>
<line x1="1949" y1="2907.50" x2="1934" y2="2907.50"/>
<line x1="227" y1="2821.00" x2="255" y2="2821.00"/>
<line x1="1949" y1="2821.00" x2="1921" y2="2821.00"/>
<line x1="227" y1="2734.50" x2="242" y2="2734.50"/>
<line x1="1949" y1="2734.50" x2="1934" y2="2734.50"/>
<line x1="227" y1="2648.00" x2="255" y2="2648.00"/>
<line x1="1949" y1="2648.00" x2="1921" y2="2648.00"/>
<line x1="227" y1="2561.50" x2="242" y2="2561.50"/>
<line x1="1949" y1="2561.50" x2="1934" y2="2561.50"/>
<line x1="227" y1="2475.00" x2="255" y2="2475.00"/>
<line x1="1949" y1="2475.00" x2="1921" y2="2475.00"/>
<line x1="227" y1="2388.50" x2="242" y2="2388.50"/>
<line x1="1949" y1="2388.50" x2="1934" y2="2388.50"/>
<line x1="227" y1="2302.00" x2="255" y2="2302.00"/>
<line x1="1949" y1="2302.00" x2="1921" y2="2302.00"/>
<line x1="227" y1="2215.50" x2="242" y2="2215.50"/>
<line x1="1949" y1="2215.50" x2="1934" y2="2215.50"/>
<line x1="227" y1="2129.00" x2="255" y2="2129.00"/>
<line x1="1949" y1="2129.00" x2="1921" y2="2129.00"/>
<line x1="227" y1="2042.50" x2="242" y2="2042.50"/>
<line x1="1949" y1="2042.50" x2="1934" y2="2042.50"/>
<line x1="227" y1="1956.00" x2="255" y2="1956.00"/>
<line x1="1949" y1="1956.00" x2="1921" y2="1956.00"/>
<line x1="227" y1="1869.50" x2="242" y2="1869.50"/>
<line x1="1949" y1="1869.50" x2="1934" y2="1869.50"/>
<line x1="743.95" y1="3167" x2="743.95" y2="3153"/>
<line x1="743.95" y1="1782" x2="743.95" y2="1795"/>
<line x1="1260.40" y1="3167" x2="1260.40" y2="3139"/>
<line x1="1260.40" y1="1782" x2="1260.40" y2="1810"/>
<line x1="1776.85" y1="3167" x2="1776.85" y2="3153"/>
<line x1="1776.85" y1="1782" x2="1776.85" y2="1795"/>
</g>
<text x="197.7" y="3189.40" font-size="59" text-anchor="end" class="tl">0</text>
<text x="197.7" y="3016.40" font-size="59" text-anchor="end" class="tl">5</text>
<text x="197.7" y="2843.40" font-size="59" text-anchor="end" class="tl">10</text>
<text x="197.7" y="2670.40" font-size="59" text-anchor="end" class="tl">15</text>
<text x="197.7" y="2497.40" font-size="59" text-anchor="end" class="tl">20</text>
<text x="197.7" y="2324.40" font-size="59" text-anchor="end" class="tl">25</text>
<text x="197.7" y="2151.40" font-size="59" text-anchor="end" class="tl">30</text>
<text x="197.7" y="1978.40" font-size="59" text-anchor="end" class="tl">35</text>
<text x="197.7" y="1805.40" font-size="59" text-anchor="end" class="tl">40</text>
<text x="227.50" y="3246" font-size="59" text-anchor="middle" class="tl">0</text>
<text x="1260.40" y="3246" font-size="59" text-anchor="middle" class="tl">300</text>
<text transform="translate(108.8,2883.69) rotate(-90)" font-size="72" textLength="361.21" lengthAdjust="spacingAndGlyphs">Temperature</text>
<text transform="translate(108.8,2510.7) rotate(-90)" font-size="72" textLength="303.96" lengthAdjust="spacingAndGlyphs">increment</text>
<text transform="translate(108.8,2187.76) rotate(-90)" font-size="72" textLength="120.52" lengthAdjust="spacingAndGlyphs">(°C)</text>
<text x="992.8" y="3345.3" font-size="73"><tspan font-style="italic">t</tspan> (day)</text>
<rect x="1369" y="2220" width="529" height="509" fill="none" stroke="#000" stroke-width="3"/>
<path d="M1370,2265.60 L1515.5,2265.60" stroke="#515151" stroke-width="14" stroke-linecap="round" fill="none"/>
<text x="1539.25" y="2286.70" font-size="65" font-style="italic" textLength="37.89" lengthAdjust="spacingAndGlyphs">η</text>
<text x="1570.78" y="2303.70" font-size="45" font-style="italic" textLength="27.15" lengthAdjust="spacingAndGlyphs">T</text>
<text x="1594.46" y="2286.70" font-size="65" textLength="42.21" lengthAdjust="spacingAndGlyphs">=</text>
<text x="1633.19" y="2286.70" font-size="65" textLength="32.5" lengthAdjust="spacingAndGlyphs">1</text>
<text x="1683.34" y="2286.70" font-size="65" font-style="italic" textLength="41.2" lengthAdjust="spacingAndGlyphs">R</text>
<text x="1721.67" y="2303.70" font-size="45" font-style="italic" textLength="27.25" lengthAdjust="spacingAndGlyphs">T</text>
<text x="1744.98" y="2286.70" font-size="65" textLength="43.06" lengthAdjust="spacingAndGlyphs">=</text>
<text x="1787.42" y="2286.70" font-size="65" textLength="63.39" lengthAdjust="spacingAndGlyphs">10</text>
<text x="1849.36" y="2259.20" font-size="45" textLength="28.62" lengthAdjust="spacingAndGlyphs">−</text>
<text x="1875.68" y="2259.20" font-size="45" textLength="21.07" lengthAdjust="spacingAndGlyphs">3</text>
<path d="M1370,2369.00 L1515.5,2369.00" stroke="#F14040" stroke-width="14" stroke-linecap="round" fill="none" stroke-dasharray="54 74.4"/>
<text x="1539.25" y="2390.10" font-size="65" font-style="italic" textLength="37.89" lengthAdjust="spacingAndGlyphs">η</text>
<text x="1570.78" y="2407.10" font-size="45" font-style="italic" textLength="27.15" lengthAdjust="spacingAndGlyphs">T</text>
<text x="1594.46" y="2390.10" font-size="65" textLength="42.21" lengthAdjust="spacingAndGlyphs">=</text>
<text x="1633.19" y="2390.10" font-size="65" textLength="32.5" lengthAdjust="spacingAndGlyphs">1</text>
<text x="1683.34" y="2390.10" font-size="65" font-style="italic" textLength="41.2" lengthAdjust="spacingAndGlyphs">R</text>
<text x="1721.67" y="2407.10" font-size="45" font-style="italic" textLength="27.25" lengthAdjust="spacingAndGlyphs">T</text>
<text x="1744.98" y="2390.10" font-size="65" textLength="43.06" lengthAdjust="spacingAndGlyphs">=</text>
<text x="1787.42" y="2390.10" font-size="65" textLength="63.39" lengthAdjust="spacingAndGlyphs">10</text>
<text x="1849.68" y="2362.60" font-size="45" textLength="26.2" lengthAdjust="spacingAndGlyphs">−</text>
<text x="1873.22" y="2362.60" font-size="45" textLength="25.94" lengthAdjust="spacingAndGlyphs">2</text>
<path d="M1370,2472.40 L1515.5,2472.40" stroke="#1A6FDF" stroke-width="14" stroke-linecap="round" fill="none" stroke-dasharray="21.4 36.6"/>
<text x="1539.25" y="2493.50" font-size="65" font-style="italic" textLength="37.89" lengthAdjust="spacingAndGlyphs">η</text>
<text x="1570.78" y="2510.50" font-size="45" font-style="italic" textLength="27.15" lengthAdjust="spacingAndGlyphs">T</text>
<text x="1594.46" y="2493.50" font-size="65" textLength="42.21" lengthAdjust="spacingAndGlyphs">=</text>
<text x="1633.19" y="2493.50" font-size="65" textLength="32.5" lengthAdjust="spacingAndGlyphs">1</text>
<text x="1683.34" y="2493.50" font-size="65" font-style="italic" textLength="41.2" lengthAdjust="spacingAndGlyphs">R</text>
<text x="1721.67" y="2510.50" font-size="45" font-style="italic" textLength="27.25" lengthAdjust="spacingAndGlyphs">T</text>
<text x="1744.98" y="2493.50" font-size="65" textLength="43.06" lengthAdjust="spacingAndGlyphs">=</text>
<text x="1787.42" y="2493.50" font-size="65" textLength="63.39" lengthAdjust="spacingAndGlyphs">10</text>
<text x="1849.68" y="2466.00" font-size="45" textLength="26.2" lengthAdjust="spacingAndGlyphs">−</text>
<text x="1874.57" y="2466.00" font-size="45" textLength="21.16" lengthAdjust="spacingAndGlyphs">1</text>
<path d="M1370,2575.80 L1515.5,2575.80" stroke="#37AD6B" stroke-width="14" stroke-linecap="round" fill="none" stroke-dasharray="67.3 42.8 9.3 43.1"/>
<text x="1539.25" y="2596.90" font-size="65" font-style="italic" textLength="37.89" lengthAdjust="spacingAndGlyphs">η</text>
<text x="1570.78" y="2613.90" font-size="45" font-style="italic" textLength="27.15" lengthAdjust="spacingAndGlyphs">T</text>
<text x="1594.46" y="2596.90" font-size="65" textLength="42.21" lengthAdjust="spacingAndGlyphs">=</text>
<text x="1633.19" y="2596.90" font-size="65" textLength="32.5" lengthAdjust="spacingAndGlyphs">1</text>
<text x="1683.34" y="2596.90" font-size="65" font-style="italic" textLength="41.2" lengthAdjust="spacingAndGlyphs">R</text>
<text x="1721.67" y="2613.90" font-size="45" font-style="italic" textLength="27.25" lengthAdjust="spacingAndGlyphs">T</text>
<text x="1744.98" y="2596.90" font-size="65" textLength="43.06" lengthAdjust="spacingAndGlyphs">=</text>
<text x="1783.99" y="2596.90" font-size="65" textLength="32.5" lengthAdjust="spacingAndGlyphs">1</text>
<path d="M1370,2679.20 L1515.5,2679.20" stroke="#B177DE" stroke-width="14" stroke-linecap="round" fill="none" stroke-dasharray="48.6 42.6 9 42.8 9 43.2"/>
<text x="1539.25" y="2700.30" font-size="65" font-style="italic" textLength="37.89" lengthAdjust="spacingAndGlyphs">η</text>
<text x="1570.78" y="2717.30" font-size="45" font-style="italic" textLength="27.15" lengthAdjust="spacingAndGlyphs">T</text>
<text x="1594.46" y="2700.30" font-size="65" textLength="42.21" lengthAdjust="spacingAndGlyphs">=</text>
<text x="1633.19" y="2700.30" font-size="65" textLength="32.5" lengthAdjust="spacingAndGlyphs">1</text>
<text x="1683.34" y="2700.30" font-size="65" font-style="italic" textLength="41.2" lengthAdjust="spacingAndGlyphs">R</text>
<text x="1721.67" y="2717.30" font-size="45" font-style="italic" textLength="27.25" lengthAdjust="spacingAndGlyphs">T</text>
<text x="1744.98" y="2700.30" font-size="65" textLength="43.06" lengthAdjust="spacingAndGlyphs">=</text>
<text x="1787.42" y="2700.30" font-size="65" textLength="63.39" lengthAdjust="spacingAndGlyphs">10</text>
<text x="1375.5" y="2920.1" font-size="73"><tspan font-style="italic">z</tspan>=−4 m</text>
<text x="1376" y="3007.6" font-size="73">Layer 2</text>
<text x="182.59" y="3455.3" font-size="87" textLength="105.94" lengthAdjust="spacingAndGlyphs" class="cap">(<tspan font-weight="bold">b</tspan>)</text>
<text x="306.19" y="3455.3" font-size="87" textLength="199.85" lengthAdjust="spacingAndGlyphs" class="cap">Inner</text>
<text x="527.67" y="3455.3" font-size="87" textLength="236.2" lengthAdjust="spacingAndGlyphs" class="cap">radius</text>
<text x="783.28" y="3455.3" font-size="87" textLength="320.44" lengthAdjust="spacingAndGlyphs" class="cap">interface</text>
<text x="1123.04" y="3455.3" font-size="87" textLength="73.66" lengthAdjust="spacingAndGlyphs" class="cap">of</text>
<text x="1218.87" y="3455.3" font-size="87" textLength="114.07" lengthAdjust="spacingAndGlyphs" class="cap">the</text>
<text x="1352.23" y="3455.3" font-size="87" textLength="255.26" lengthAdjust="spacingAndGlyphs" class="cap">second</text>
<text x="1632.17" y="3455.3" font-size="87" textLength="182.61" lengthAdjust="spacingAndGlyphs" class="cap">layer</text>
</svg></body></html>
